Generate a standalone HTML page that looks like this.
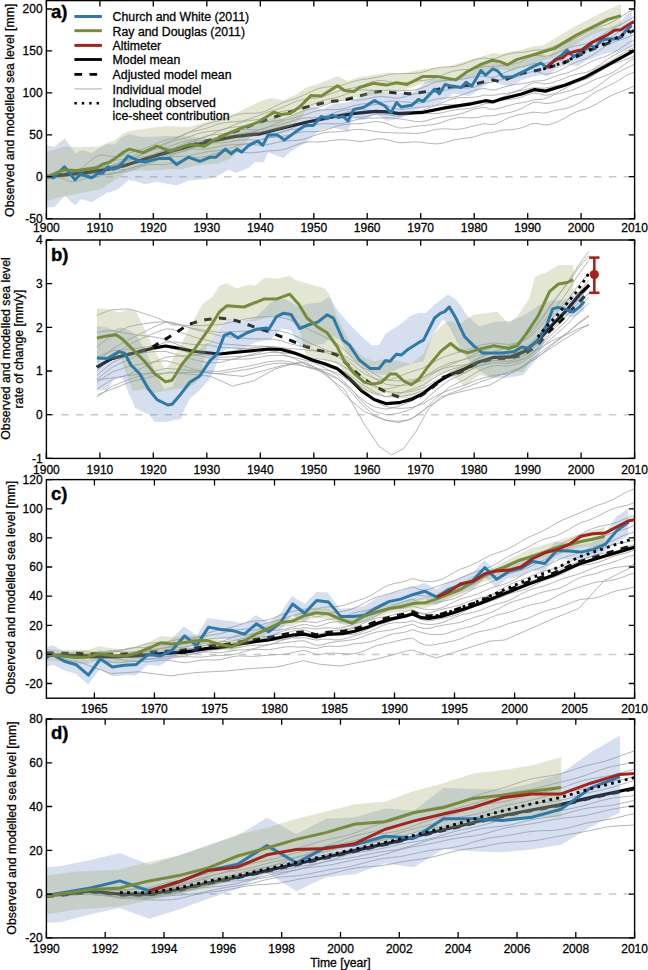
<!DOCTYPE html><html><head><meta charset="utf-8"><style>html,body{margin:0;padding:0;background:#fff}svg{display:block}</style></head><body>
<svg width="648" height="970" viewBox="0 0 648 970" font-family='"Liberation Sans", sans-serif'>
<style>text{fill:#000;stroke:#000;stroke-width:0.28px;paint-order:stroke}text.b{stroke-width:0.35px}</style>
<rect width="648" height="970" fill="#fff"/>
<defs>
<clipPath id="cpa"><rect x="46.4" y="0.6" width="588.2" height="218.3"/></clipPath>
<clipPath id="cpb"><rect x="46.4" y="240.0" width="588.2" height="218.4"/></clipPath>
<clipPath id="cpc"><rect x="46.4" y="479.6" width="588.2" height="218.6"/></clipPath>
<clipPath id="cpd"><rect x="46.4" y="719.0" width="588.2" height="218.9"/></clipPath>
</defs>
<g clip-path="url(#cpa)">
<line x1="46.4" y1="176.7" x2="634.6" y2="176.7" stroke="#c9c9c9" stroke-width="1.5" stroke-dasharray="7.4 7.4"/>
<path d="M46.4 177.1 L51.7 175.5 L57.1 174.2 L62.4 173.4 L67.8 172.7 L73.1 171.7 L78.5 169.7 L83.8 166.5 L89.2 161.9 L94.5 157.5 L99.9 155.1 L105.2 155.2 L110.6 156.3 L115.9 156.6 L121.3 155.7 L126.6 154.1 L132.0 152.2 L137.3 150.7 L142.6 149.1 L148.0 147.3 L153.3 145.1 L158.7 142.7 L164.0 140.6 L169.4 139.0 L174.7 137.9 L180.1 136.5 L185.4 134.4 L190.8 131.6 L196.1 128.7 L201.5 126.0 L206.8 123.9 L212.2 122.3 L217.5 121.1 L222.9 119.7 L228.2 117.8 L233.5 115.7 L238.9 114.2 L244.2 113.4 L249.6 113.3 L254.9 113.3 L260.3 112.9 L265.6 111.0 L271.0 108.4 L276.3 105.6 L281.7 103.2 L287.0 101.2 L292.4 99.5 L297.7 97.7 L303.1 95.4 L308.4 92.8 L313.8 90.3 L319.1 88.4 L324.4 87.3 L329.8 86.8 L335.1 86.4 L340.5 85.5 L345.8 84.0 L351.2 82.1 L356.5 80.6 L361.9 79.6 L367.2 78.9 L372.6 78.1 L377.9 77.1 L383.3 76.0 L388.6 74.6 L394.0 73.9 L399.3 73.8 L404.6 73.5 L410.0 73.5 L415.3 73.3 L420.7 72.7 L426.0 71.2 L431.4 69.4 L436.7 67.9 L442.1 67.2 L447.4 67.0 L452.8 66.7 L458.1 65.6 L463.5 63.9 L468.8 61.9 L474.2 60.0 L479.5 58.7 L484.9 57.9 L490.2 58.9 L495.5 58.4 L500.9 56.4 L506.2 54.6 L511.6 53.3 L516.9 52.6 L522.3 52.3 L527.6 51.6 L533.0 50.3 L538.3 49.9 L543.7 49.9 L549.0 48.2 L554.4 46.2 L559.7 44.7 L565.1 43.3 L570.4 41.1 L575.8 38.4 L581.1 35.5 L586.4 32.7 L591.8 29.8 L597.1 27.6 L602.5 25.9 L607.8 23.9 L613.2 21.4 L618.5 18.2 L623.9 14.8 L629.2 11.6 L634.6 9.2" fill="none" stroke="#a2a2a2" stroke-width="0.80" stroke-linejoin="round"/>
<path d="M46.4 177.1 L51.7 176.1 L57.1 175.0 L62.4 173.9 L67.8 172.8 L73.1 171.9 L78.5 171.3 L83.8 170.5 L89.2 169.0 L94.5 166.8 L99.9 164.4 L105.2 162.5 L110.6 161.1 L115.9 160.2 L121.3 159.6 L126.6 158.5 L132.0 156.4 L137.3 153.9 L142.6 151.5 L148.0 149.7 L153.3 148.3 L158.7 146.9 L164.0 145.0 L169.4 142.4 L174.7 139.3 L180.1 136.2 L185.4 133.6 L190.8 131.8 L196.1 130.7 L201.5 129.6 L206.8 128.1 L212.2 126.2 L217.5 124.3 L222.9 123.0 L228.2 122.2 L233.5 121.8 L238.9 121.4 L244.2 120.6 L249.6 118.9 L254.9 116.9 L260.3 114.9 L265.6 112.8 L271.0 111.2 L276.3 109.6 L281.7 107.8 L287.0 105.4 L292.4 102.9 L297.7 100.8 L303.1 99.3 L308.4 98.6 L313.8 98.3 L319.1 97.6 L324.4 96.2 L329.8 94.2 L335.1 92.2 L340.5 90.6 L345.8 89.3 L351.2 88.3 L356.5 87.2 L361.9 85.7 L367.2 83.7 L372.6 81.7 L377.9 80.6 L383.3 80.7 L388.6 81.6 L394.0 82.9 L399.3 83.7 L404.6 83.0 L410.0 81.9 L415.3 81.1 L420.7 80.7 L426.0 80.2 L431.4 79.2 L436.7 77.5 L442.1 75.3 L447.4 73.1 L452.8 71.3 L458.1 70.1 L463.5 69.6 L468.8 69.5 L474.2 68.8 L479.5 67.7 L484.9 66.2 L490.2 66.7 L495.5 66.4 L500.9 65.6 L506.2 65.3 L511.6 64.7 L516.9 63.2 L522.3 61.0 L527.6 58.1 L533.0 55.6 L538.3 55.4 L543.7 56.4 L549.0 55.8 L554.4 54.0 L559.7 51.8 L565.1 49.5 L570.4 47.3 L575.8 45.8 L581.1 44.8 L586.4 43.8 L591.8 41.5 L597.1 38.4 L602.5 34.9 L607.8 31.3 L613.2 28.2 L618.5 25.6 L623.9 22.9 L629.2 19.8 L634.6 16.5" fill="none" stroke="#a2a2a2" stroke-width="0.80" stroke-linejoin="round"/>
<path d="M46.4 177.1 L51.7 176.0 L57.1 174.9 L62.4 174.1 L67.8 173.3 L73.1 172.0 L78.5 170.3 L83.8 168.5 L89.2 167.1 L94.5 166.7 L99.9 166.6 L105.2 166.5 L110.6 165.5 L115.9 163.8 L121.3 161.9 L126.6 160.1 L132.0 158.3 L137.3 156.7 L142.6 154.9 L148.0 152.5 L153.3 149.6 L158.7 146.4 L164.0 143.7 L169.4 141.7 L174.7 140.4 L180.1 139.3 L185.4 138.0 L190.8 136.2 L196.1 134.4 L201.5 132.8 L206.8 131.7 L212.2 131.1 L217.5 130.5 L222.9 129.5 L228.2 127.6 L233.5 125.1 L238.9 122.9 L244.2 121.4 L249.6 120.4 L254.9 119.9 L260.3 119.2 L265.6 117.3 L271.0 115.1 L276.3 113.0 L281.7 111.5 L287.0 110.6 L292.4 110.1 L297.7 109.4 L303.1 108.1 L308.4 106.1 L313.8 103.8 L319.1 101.7 L324.4 100.1 L329.8 98.9 L335.1 97.8 L340.5 96.3 L345.8 94.3 L351.2 92.1 L356.5 90.6 L361.9 89.9 L367.2 90.0 L372.6 90.2 L377.9 90.5 L383.3 90.5 L388.6 90.2 L394.0 90.4 L399.3 90.7 L404.6 90.5 L410.0 90.4 L415.3 89.8 L420.7 88.5 L426.0 86.3 L431.4 83.8 L436.7 81.7 L442.1 80.7 L447.4 80.4 L452.8 80.3 L458.1 79.9 L463.5 79.0 L468.8 78.0 L474.2 76.9 L479.5 76.4 L484.9 76.2 L490.2 77.5 L495.5 77.0 L500.9 74.5 L506.2 72.0 L511.6 69.7 L516.9 68.0 L522.3 66.8 L527.6 65.4 L533.0 63.7 L538.3 63.4 L543.7 63.6 L549.0 62.6 L554.4 61.4 L559.7 60.8 L565.1 60.3 L570.4 59.0 L575.8 56.9 L581.1 54.1 L586.4 51.2 L591.8 47.7 L597.1 44.7 L602.5 42.0 L607.8 39.2 L613.2 35.8 L618.5 32.0 L623.9 28.3 L629.2 25.1 L634.6 23.0" fill="none" stroke="#a2a2a2" stroke-width="0.80" stroke-linejoin="round"/>
<path d="M46.4 177.1 L51.7 176.1 L57.1 174.8 L62.4 173.6 L67.8 172.4 L73.1 171.7 L78.5 171.7 L83.8 171.9 L89.2 171.6 L94.5 170.5 L99.9 169.0 L105.2 167.5 L110.6 166.2 L115.9 165.1 L121.3 164.0 L126.6 162.3 L132.0 159.5 L137.3 156.3 L142.6 153.4 L148.0 151.3 L153.3 149.9 L158.7 149.0 L164.0 148.0 L169.4 146.5 L174.7 144.6 L180.1 142.6 L185.4 141.0 L190.8 140.0 L196.1 139.3 L201.5 138.3 L206.8 136.6 L212.2 134.2 L217.5 131.7 L222.9 129.5 L228.2 128.0 L233.5 127.1 L238.9 126.6 L244.2 126.0 L249.6 125.0 L254.9 123.8 L260.3 122.9 L265.6 121.9 L271.0 121.4 L276.3 120.8 L281.7 119.8 L287.0 117.9 L292.4 115.4 L297.7 112.9 L303.1 110.9 L308.4 109.4 L313.8 108.3 L319.1 107.0 L324.4 105.3 L329.8 103.2 L335.1 101.4 L340.5 100.3 L345.8 100.0 L351.2 100.0 L356.5 100.2 L361.9 99.8 L367.2 98.8 L372.6 97.5 L377.9 96.7 L383.3 96.7 L388.6 97.2 L394.0 98.0 L399.3 98.1 L404.6 96.7 L410.0 95.0 L415.3 93.7 L420.7 93.3 L426.0 93.0 L431.4 92.7 L436.7 92.0 L442.1 90.9 L447.4 89.7 L452.8 88.7 L458.1 88.2 L463.5 88.1 L468.8 88.0 L474.2 87.1 L479.5 85.4 L484.9 83.1 L490.2 82.6 L495.5 81.3 L500.9 79.7 L506.2 78.9 L511.6 78.0 L516.9 76.8 L522.3 75.1 L527.6 73.0 L533.0 71.3 L538.3 72.0 L543.7 73.9 L549.0 74.0 L554.4 72.6 L559.7 70.4 L565.1 67.8 L570.4 64.8 L575.8 62.4 L581.1 60.4 L586.4 58.5 L591.8 55.5 L597.1 52.0 L602.5 48.3 L607.8 45.0 L613.2 42.4 L618.5 40.4 L623.9 38.7 L629.2 36.7 L634.6 34.2" fill="none" stroke="#a2a2a2" stroke-width="0.80" stroke-linejoin="round"/>
<path d="M46.4 177.1 L51.7 176.0 L57.1 175.2 L62.4 174.9 L67.8 174.8 L73.1 174.4 L78.5 173.6 L83.8 172.4 L89.2 171.1 L94.5 170.2 L99.9 169.5 L105.2 168.7 L110.6 167.0 L115.9 164.7 L121.3 162.5 L126.6 160.5 L132.0 159.0 L137.3 158.1 L142.6 157.2 L148.0 156.0 L153.3 154.3 L158.7 152.2 L164.0 150.3 L169.4 148.9 L174.7 147.8 L180.1 146.6 L185.4 144.9 L190.8 142.5 L196.1 140.0 L201.5 137.6 L206.8 135.9 L212.2 134.9 L217.5 134.4 L222.9 133.7 L228.2 132.6 L233.5 131.2 L238.9 130.1 L244.2 129.6 L249.6 129.7 L254.9 130.0 L260.3 129.9 L265.6 128.3 L271.0 125.9 L276.3 123.3 L281.7 121.1 L287.0 119.4 L292.4 118.1 L297.7 116.9 L303.1 115.4 L308.4 113.5 L313.8 111.7 L319.1 110.3 L324.4 109.7 L329.8 109.6 L335.1 109.7 L340.5 109.3 L345.8 108.1 L351.2 106.4 L356.5 105.0 L361.9 104.0 L367.2 103.5 L372.6 103.0 L377.9 102.6 L383.3 102.0 L388.6 101.2 L394.0 101.1 L399.3 101.6 L404.6 101.8 L410.0 102.5 L415.3 103.0 L420.7 102.9 L426.0 101.9 L431.4 100.3 L436.7 99.0 L442.1 98.2 L447.4 97.8 L452.8 97.3 L458.1 96.2 L463.5 94.4 L468.8 92.4 L474.2 90.4 L479.5 89.1 L484.9 88.5 L490.2 89.9 L495.5 89.8 L500.9 88.0 L506.2 86.4 L511.6 85.0 L516.9 84.1 L522.3 83.7 L527.6 82.8 L533.0 81.3 L538.3 80.9 L543.7 80.6 L549.0 78.7 L554.4 76.5 L559.7 74.9 L565.1 73.6 L570.4 71.7 L575.8 69.3 L581.1 66.7 L586.4 64.1 L591.8 61.3 L597.1 59.1 L602.5 57.4 L607.8 55.5 L613.2 52.9 L618.5 49.6 L623.9 46.0 L629.2 42.4 L634.6 39.7" fill="none" stroke="#a2a2a2" stroke-width="0.80" stroke-linejoin="round"/>
<path d="M46.4 177.1 L51.7 176.6 L57.1 175.9 L62.4 175.1 L67.8 174.2 L73.1 173.4 L78.5 172.9 L83.8 172.5 L89.2 171.4 L94.5 169.9 L99.9 168.1 L105.2 166.7 L110.6 165.8 L115.9 165.5 L121.3 165.4 L126.6 164.9 L132.0 163.2 L137.3 161.1 L142.6 158.8 L148.0 156.9 L153.3 155.6 L158.7 154.3 L164.0 152.8 L169.4 150.6 L174.7 147.9 L180.1 145.2 L185.4 143.0 L190.8 141.7 L196.1 141.2 L201.5 140.8 L206.8 140.0 L212.2 138.7 L217.5 137.3 L222.9 136.2 L228.2 135.5 L233.5 135.2 L238.9 135.1 L244.2 134.5 L249.6 133.1 L254.9 131.3 L260.3 129.5 L265.6 127.7 L271.0 126.4 L276.3 125.5 L281.7 124.3 L287.0 122.7 L292.4 120.9 L297.7 119.2 L303.1 118.2 L308.4 117.8 L313.8 117.8 L319.1 117.4 L324.4 116.3 L329.8 114.5 L335.1 112.6 L340.5 111.0 L345.8 109.9 L351.2 109.2 L356.5 108.6 L361.9 107.6 L367.2 106.3 L372.6 104.9 L377.9 104.3 L383.3 104.9 L388.6 106.3 L394.0 108.2 L399.3 109.6 L404.6 109.2 L410.0 108.4 L415.3 107.6 L420.7 107.2 L426.0 106.8 L431.4 106.0 L436.7 104.7 L442.1 102.8 L447.4 100.6 L452.8 98.8 L458.1 97.7 L463.5 97.4 L468.8 97.5 L474.2 97.2 L479.5 96.3 L484.9 95.0 L490.2 95.4 L495.5 95.0 L500.9 93.9 L506.2 93.4 L511.6 92.5 L516.9 90.9 L522.3 88.6 L527.6 85.6 L533.0 82.9 L538.3 82.7 L543.7 83.8 L549.0 83.4 L554.4 82.0 L559.7 80.1 L565.1 78.1 L570.4 75.9 L575.8 74.4 L581.1 73.3 L586.4 72.3 L591.8 69.9 L597.1 66.7 L602.5 62.9 L607.8 59.0 L613.2 55.7 L618.5 52.8 L623.9 50.1 L629.2 47.2 L634.6 44.1" fill="none" stroke="#a2a2a2" stroke-width="0.80" stroke-linejoin="round"/>
<path d="M46.4 177.1 L51.7 176.3 L57.1 175.4 L62.4 174.8 L67.8 174.3 L73.1 173.5 L78.5 172.3 L83.8 171.0 L89.2 170.1 L94.5 170.0 L99.9 170.4 L105.2 170.7 L110.6 170.1 L115.9 168.6 L121.3 166.8 L126.6 164.9 L132.0 163.1 L137.3 161.6 L142.6 160.0 L148.0 158.1 L153.3 155.6 L158.7 152.9 L164.0 150.6 L169.4 149.0 L174.7 148.3 L180.1 147.8 L185.4 147.0 L190.8 145.8 L196.1 144.3 L201.5 142.9 L206.8 141.8 L212.2 141.2 L217.5 140.8 L222.9 139.9 L228.2 138.2 L233.5 136.0 L238.9 134.1 L244.2 132.8 L249.6 132.2 L254.9 132.2 L260.3 132.2 L265.6 131.0 L271.0 129.4 L276.3 127.8 L281.7 126.5 L287.0 125.8 L292.4 125.5 L297.7 125.0 L303.1 123.9 L308.4 122.0 L313.8 119.9 L319.1 117.9 L324.4 116.4 L329.8 115.4 L335.1 114.8 L340.5 113.8 L345.8 112.5 L351.2 110.9 L356.5 109.8 L361.9 109.6 L367.2 110.0 L372.6 110.7 L377.9 111.3 L383.3 111.7 L388.6 111.6 L394.0 111.7 L399.3 112.1 L404.6 111.8 L410.0 111.8 L415.3 111.6 L420.7 110.8 L426.0 109.0 L431.4 106.9 L436.7 105.4 L442.1 104.6 L447.4 104.5 L452.8 104.8 L458.1 104.6 L463.5 103.8 L468.8 102.7 L474.2 101.5 L479.5 100.6 L484.9 100.1 L490.2 101.2 L495.5 100.6 L500.9 98.0 L506.2 95.5 L511.6 93.1 L516.9 91.3 L522.3 90.2 L527.6 89.1 L533.0 87.8 L538.3 87.9 L543.7 88.3 L549.0 87.3 L554.4 86.0 L559.7 85.2 L565.1 84.7 L570.4 83.2 L575.8 81.0 L581.1 78.0 L586.4 74.8 L591.8 71.1 L597.1 68.0 L602.5 65.3 L607.8 62.6 L613.2 59.5 L618.5 56.1 L623.9 52.6 L629.2 49.5 L634.6 47.4" fill="none" stroke="#a2a2a2" stroke-width="0.80" stroke-linejoin="round"/>
<path d="M46.4 177.1 L51.7 176.3 L57.1 175.4 L62.4 174.6 L67.8 173.8 L73.1 173.5 L78.5 173.8 L83.8 174.4 L89.2 174.4 L94.5 173.5 L99.9 172.0 L105.2 170.5 L110.6 169.2 L115.9 168.1 L121.3 167.2 L126.6 165.9 L132.0 163.6 L137.3 160.9 L142.6 158.4 L148.0 156.7 L153.3 155.8 L158.7 155.4 L164.0 154.9 L169.4 153.8 L174.7 152.2 L180.1 150.4 L185.4 148.7 L190.8 147.6 L196.1 146.9 L201.5 146.1 L206.8 144.7 L212.2 142.6 L217.5 140.3 L222.9 138.4 L228.2 137.3 L233.5 136.8 L238.9 136.9 L244.2 137.0 L249.6 136.5 L254.9 135.7 L260.3 135.0 L265.6 134.1 L271.0 133.7 L276.3 133.2 L281.7 132.3 L287.0 130.6 L292.4 128.2 L297.7 125.8 L303.1 123.8 L308.4 122.6 L313.8 121.9 L319.1 121.2 L324.4 120.1 L329.8 118.6 L335.1 117.3 L340.5 116.6 L345.8 116.5 L351.2 116.8 L356.5 117.3 L361.9 117.1 L367.2 116.3 L372.6 114.9 L377.9 114.1 L383.3 114.1 L388.6 114.7 L394.0 115.8 L399.3 116.4 L404.6 115.4 L410.0 114.3 L415.3 113.4 L420.7 113.4 L426.0 113.6 L431.4 113.7 L436.7 113.5 L442.1 112.7 L447.4 111.4 L452.8 110.2 L458.1 109.3 L463.5 108.9 L468.8 108.6 L474.2 107.5 L479.5 105.8 L484.9 103.6 L490.2 103.1 L495.5 101.9 L500.9 100.3 L506.2 99.7 L511.6 99.2 L516.9 98.3 L522.3 96.8 L527.6 94.8 L533.0 93.0 L538.3 93.5 L543.7 95.1 L549.0 95.0 L554.4 93.5 L559.7 91.2 L565.1 88.4 L570.4 85.2 L575.8 82.7 L581.1 80.7 L586.4 79.0 L591.8 76.3 L597.1 73.1 L602.5 69.7 L607.8 66.5 L613.2 63.9 L618.5 62.0 L623.9 60.2 L629.2 58.2 L634.6 55.6" fill="none" stroke="#a2a2a2" stroke-width="0.80" stroke-linejoin="round"/>
<path d="M46.4 177.1 L51.7 176.4 L57.1 175.8 L62.4 175.8 L67.8 176.0 L73.1 175.9 L78.5 175.2 L83.8 174.0 L89.2 172.7 L94.5 171.8 L99.9 171.3 L105.2 170.8 L110.6 169.7 L115.9 168.0 L121.3 166.2 L126.6 164.6 L132.0 163.5 L137.3 162.9 L142.6 162.4 L148.0 161.6 L153.3 160.1 L158.7 158.2 L164.0 156.2 L169.4 154.6 L174.7 153.5 L180.1 152.4 L185.4 151.0 L190.8 148.9 L196.1 146.8 L201.5 144.7 L206.8 143.4 L212.2 142.8 L217.5 142.8 L222.9 142.7 L228.2 142.1 L233.5 141.0 L238.9 140.1 L244.2 139.7 L249.6 139.8 L254.9 140.0 L260.3 140.0 L265.6 138.5 L271.0 136.4 L276.3 133.9 L281.7 131.8 L287.0 130.3 L292.4 129.4 L297.7 128.8 L303.1 127.9 L308.4 126.6 L313.8 125.2 L319.1 124.2 L324.4 123.7 L329.8 123.8 L335.1 124.0 L340.5 123.8 L345.8 122.7 L351.2 121.1 L356.5 119.6 L361.9 118.6 L367.2 118.2 L372.6 118.0 L377.9 118.0 L383.3 118.0 L388.6 117.7 L394.0 118.1 L399.3 118.9 L404.6 119.5 L410.0 120.5 L415.3 121.4 L420.7 121.7 L426.0 120.8 L431.4 119.3 L436.7 117.9 L442.1 116.9 L447.4 116.2 L452.8 115.6 L458.1 114.5 L463.5 112.8 L468.8 111.0 L474.2 109.1 L479.5 107.9 L484.9 107.5 L490.2 109.1 L495.5 109.3 L500.9 107.8 L506.2 106.2 L511.6 104.7 L516.9 103.5 L522.3 102.7 L527.6 101.6 L533.0 100.0 L538.3 99.5 L543.7 99.1 L549.0 97.1 L554.4 94.8 L559.7 93.2 L565.1 92.1 L570.4 90.6 L575.8 88.6 L581.1 86.2 L586.4 83.8 L591.8 80.9 L597.1 78.7 L602.5 76.8 L607.8 74.8 L613.2 72.1 L618.5 68.7 L623.9 64.8 L629.2 61.0 L634.6 58.0" fill="none" stroke="#a2a2a2" stroke-width="0.80" stroke-linejoin="round"/>
<path d="M46.4 177.1 L51.7 176.8 L57.1 176.4 L62.4 175.8 L67.8 175.0 L73.1 174.3 L78.5 173.9 L83.8 173.8 L89.2 173.2 L94.5 172.3 L99.9 171.1 L105.2 170.1 L110.6 169.6 L115.9 169.5 L121.3 169.8 L126.6 169.5 L132.0 168.1 L137.3 166.1 L142.6 163.7 L148.0 161.8 L153.3 160.4 L158.7 159.3 L164.0 158.0 L169.4 156.2 L174.7 154.0 L180.1 151.8 L185.4 150.0 L190.8 149.1 L196.1 149.1 L201.5 149.2 L206.8 148.9 L212.2 147.9 L217.5 146.7 L222.9 145.6 L228.2 144.9 L233.5 144.6 L238.9 144.5 L244.2 144.0 L249.6 142.9 L254.9 141.3 L260.3 139.8 L265.6 138.2 L271.0 137.4 L276.3 137.0 L281.7 136.4 L287.0 135.5 L292.4 134.1 L297.7 132.8 L303.1 131.8 L308.4 131.6 L313.8 131.7 L319.1 131.4 L324.4 130.4 L329.8 128.7 L335.1 126.9 L340.5 125.3 L345.8 124.4 L351.2 123.9 L356.5 123.8 L361.9 123.5 L367.2 122.7 L372.6 121.8 L377.9 121.6 L383.3 122.6 L388.6 124.2 L394.0 126.4 L399.3 128.0 L404.6 127.9 L410.0 127.1 L415.3 126.3 L420.7 125.8 L426.0 125.4 L431.4 124.8 L436.7 123.8 L442.1 122.3 L447.4 120.3 L452.8 118.7 L458.1 117.7 L463.5 117.6 L468.8 117.9 L474.2 117.8 L479.5 117.1 L484.9 115.8 L490.2 116.0 L495.5 115.3 L500.9 113.9 L506.2 113.1 L511.6 112.1 L516.9 110.4 L522.3 108.1 L527.6 105.0 L533.0 102.4 L538.3 102.2 L543.7 103.4 L549.0 103.4 L554.4 102.3 L559.7 100.8 L565.1 98.9 L570.4 96.6 L575.8 94.9 L581.1 93.7 L586.4 92.4 L591.8 89.9 L597.1 86.6 L602.5 82.6 L607.8 78.5 L613.2 74.9 L618.5 72.0 L623.9 69.4 L629.2 66.8 L634.6 64.0" fill="none" stroke="#a2a2a2" stroke-width="0.80" stroke-linejoin="round"/>
<path d="M46.4 177.1 L51.7 176.5 L57.1 175.8 L62.4 175.5 L67.8 175.4 L73.1 175.1 L78.5 174.6 L83.8 173.8 L89.2 173.3 L94.5 173.5 L99.9 174.2 L105.2 174.7 L110.6 174.4 L115.9 173.1 L121.3 171.4 L126.6 169.5 L132.0 167.7 L137.3 166.4 L142.6 165.1 L148.0 163.7 L153.3 161.8 L158.7 159.7 L164.0 157.8 L169.4 156.8 L174.7 156.4 L180.1 156.4 L185.4 156.2 L190.8 155.3 L196.1 154.1 L201.5 152.8 L206.8 151.7 L212.2 151.0 L217.5 150.7 L222.9 150.0 L228.2 148.7 L233.5 146.9 L238.9 145.3 L244.2 144.4 L249.6 144.3 L254.9 144.8 L260.3 145.4 L265.6 144.9 L271.0 143.9 L276.3 142.6 L281.7 141.5 L287.0 140.9 L292.4 140.6 L297.7 140.3 L303.1 139.3 L308.4 137.7 L313.8 135.7 L319.1 133.9 L324.4 132.6 L329.8 132.0 L335.1 131.9 L340.5 131.6 L345.8 130.9 L351.2 130.0 L356.5 129.4 L361.9 129.4 L367.2 130.1 L372.6 131.0 L377.9 131.9 L383.3 132.5 L388.6 132.6 L394.0 132.8 L399.3 133.1 L404.6 133.0 L410.0 133.2 L415.3 133.4 L420.7 133.1 L426.0 132.0 L431.4 130.4 L436.7 129.3 L442.1 128.9 L447.4 128.9 L452.8 129.3 L458.1 129.3 L463.5 128.5 L468.8 127.3 L474.2 125.7 L479.5 124.5 L484.9 123.6 L490.2 124.6 L495.5 123.9 L500.9 121.5 L506.2 119.0 L511.6 116.7 L516.9 115.0 L522.3 114.1 L527.6 113.2 L533.0 112.2 L538.3 112.5 L543.7 113.1 L549.0 112.1 L554.4 110.5 L559.7 109.5 L565.1 108.7 L570.4 107.0 L575.8 104.7 L581.1 101.7 L586.4 98.3 L591.8 94.4 L597.1 91.2 L602.5 88.7 L607.8 86.2 L613.2 83.6 L618.5 80.4 L623.9 77.1 L629.2 74.1 L634.6 72.0" fill="none" stroke="#a2a2a2" stroke-width="0.80" stroke-linejoin="round"/>
<path d="M46.4 177.2 L51.7 176.9 L57.1 177.0 L62.4 178.5 L67.8 180.9 L73.1 181.9 L78.5 180.6 L83.8 179.0 L89.2 178.2 L94.5 177.3 L99.9 176.0 L105.2 174.6 L110.6 173.4 L115.9 172.6 L121.3 172.2 L126.6 171.4 L132.0 169.9 L137.3 167.9 L142.6 166.0 L148.0 164.8 L153.3 164.4 L158.7 164.5 L164.0 164.4 L169.4 163.8 L174.7 162.6 L180.1 160.9 L185.4 159.3 L190.8 158.2 L196.1 157.7 L201.5 157.2 L206.8 156.2 L212.2 154.7 L217.5 153.0 L222.9 151.7 L228.2 151.0 L233.5 151.2 L238.9 151.9 L244.2 152.6 L249.6 152.8 L254.9 152.4 L260.3 152.0 L265.6 151.2 L271.0 150.8 L276.3 150.5 L281.7 149.8 L287.0 148.5 L292.4 146.5 L297.7 144.4 L303.1 142.8 L308.4 142.0 L313.8 141.9 L319.1 141.9 L324.4 141.6 L329.8 140.8 L335.1 140.1 L340.5 139.7 L345.8 139.9 L351.2 140.4 L356.5 141.1 L361.9 141.3 L367.2 140.7 L372.6 139.6 L377.9 138.8 L383.3 139.0 L388.6 140.0 L394.0 141.6 L399.3 142.8 L404.6 142.6 L410.0 142.2 L415.3 141.9 L420.7 142.3 L426.0 143.0 L431.4 143.6 L436.7 143.9 L442.1 143.3 L447.4 141.8 L452.8 140.3 L458.1 139.1 L463.5 138.3 L468.8 137.8 L474.2 136.8 L479.5 135.2 L484.9 133.2 L490.2 132.8 L495.5 131.7 L500.9 130.3 L506.2 129.9 L511.6 129.6 L516.9 129.0 L522.3 127.6 L527.6 125.5 L533.0 123.5 L538.3 123.7 L543.7 125.0 L549.0 124.6 L554.4 123.0 L559.7 120.7 L565.1 117.9 L570.4 114.7 L575.8 112.1 L581.1 110.2 L586.4 108.8 L591.8 106.4 L597.1 103.6 L602.5 100.4 L607.8 97.3 L613.2 94.6 L618.5 92.4 L623.9 90.5 L629.2 88.3 L634.6 85.7" fill="none" stroke="#a2a2a2" stroke-width="0.80" stroke-linejoin="round"/>
<path d="M46.0 177.2 L58.3 175.4 L83.0 173.0 L107.7 169.3 L125.0 165.5 L143.1 159.5 L166.3 152.6 L189.4 146.1 L212.6 141.0 L235.7 136.4 L260.0 133.8 L283.1 128.0 L306.3 122.2 L329.4 117.5 L352.6 113.6 L375.7 111.3 L387.3 111.8 L398.9 113.6 L423.1 112.3 L446.3 107.6 L469.4 104.2 L485.6 100.7 L492.6 101.9 L500.0 99.4 L521.6 94.0 L534.6 89.6 L545.4 91.1 L564.8 85.3 L586.4 76.7 L608.0 64.8 L634.0 50.6" fill="none" stroke="#000" stroke-width="3.20" stroke-linejoin="round" stroke-linecap="butt"/>
<path d="M46.0 177.2 L58.3 175.4 L83.0 173.0 L107.7 169.3 L125.0 165.5 L143.1 159.5 L166.3 152.6 L185.0 146.5 L212.0 139.5 L240.0 130.0 L252.0 125.0 L260.0 122.2 L283.1 114.1 L306.3 107.1 L329.4 101.3 L341.0 100.6 L357.2 96.7 L371.1 92.8 L380.4 91.4 L394.3 92.8 L410.0 93.7 L423.1 92.1 L446.3 87.5 L469.4 85.2 L492.6 79.9 L500.0 81.6 L521.6 73.4 L543.2 69.1 L564.8 62.6 L586.4 51.8 L608.0 43.2 L634.0 30.5" fill="none" stroke="#111" stroke-width="3.00" stroke-linejoin="round" stroke-linecap="butt" stroke-dasharray="7.4 7.4"/>
<path d="M46.0 145.0 L54.0 147.0 L64.8 138.2 L75.2 153.5 L82.0 150.0 L92.0 153.0 L99.0 148.0 L107.0 144.0 L115.0 144.4 L121.0 138.0 L129.0 134.0 L136.0 136.0 L143.0 137.0 L166.0 136.0 L189.0 136.4 L212.0 138.7 L236.0 129.5 L250.0 124.7 L263.9 120.6 L275.0 116.4 L286.1 120.6 L295.8 114.3 L305.6 110.1 L313.9 106.7 L322.2 109.4 L333.3 103.9 L348.0 102.5 L357.2 97.9 L371.1 89.8 L385.0 93.2 L398.9 93.2 L413.9 91.4 L425.5 82.2 L434.7 78.7 L446.3 78.7 L460.2 76.4 L469.4 74.1 L481.0 62.5 L492.6 60.2 L500.0 63.7 L510.8 65.9 L521.6 60.5 L532.4 56.2 L541.0 52.9 L547.5 57.2 L558.3 47.5 L567.0 42.1 L577.8 38.9 L586.4 34.6 L597.2 28.1 L608.0 28.1 L618.8 23.8 L625.3 16.2 L631.7 9.7 L631.7 46.4 L618.8 51.8 L608.0 52.9 L597.2 56.2 L586.4 60.5 L577.8 65.9 L567.0 64.8 L556.2 69.1 L546.4 76.7 L543.2 74.5 L532.4 76.7 L521.6 79.9 L510.8 86.4 L500.0 84.2 L492.6 79.9 L483.3 86.8 L469.4 96.1 L453.2 93.8 L439.4 103.0 L427.8 106.5 L413.9 111.1 L398.9 118.7 L387.3 121.0 L375.7 114.1 L364.2 119.9 L352.6 118.7 L348.0 131.4 L333.3 127.5 L319.4 130.3 L305.6 142.8 L291.7 151.1 L283.3 158.0 L268.0 152.5 L263.9 162.2 L255.0 162.0 L248.4 168.1 L236.0 173.1 L228.6 169.4 L218.8 175.6 L206.4 179.3 L189.1 180.5 L176.8 185.4 L157.0 181.7 L144.7 184.2 L134.7 181.0 L128.5 180.0 L122.3 185.8 L116.2 190.1 L110.0 192.6 L107.1 192.4 L98.8 197.9 L91.8 202.1 L80.7 199.3 L75.2 205.6 L64.8 195.8 L54.3 207.0 L46.0 207.6 Z" fill="rgb(118,148,202)" fill-opacity="0.30" stroke="none"/>
<path d="M46.0 152.0 L55.0 149.5 L64.5 146.5 L75.0 147.0 L88.0 147.0 L99.0 146.5 L107.0 143.0 L115.0 140.0 L124.0 133.0 L129.0 131.0 L143.0 129.0 L166.3 126.0 L189.0 127.0 L212.6 120.2 L235.7 113.2 L260.0 101.3 L271.6 97.9 L283.1 100.2 L294.7 95.6 L306.3 87.5 L317.9 84.0 L327.1 80.5 L337.5 75.9 L348.0 81.2 L359.5 77.0 L375.7 74.7 L389.6 72.4 L400.0 74.0 L423.1 69.0 L446.3 67.1 L469.4 60.2 L492.6 53.2 L500.0 54.0 L510.8 51.8 L521.6 49.7 L532.4 46.4 L543.2 45.4 L554.0 38.9 L564.8 32.4 L575.6 25.9 L586.4 20.5 L597.2 15.1 L608.0 9.7 L621.0 3.9 L621.0 25.9 L608.0 29.2 L597.2 32.4 L586.4 37.8 L575.6 44.3 L564.8 49.7 L554.0 57.2 L543.2 60.5 L532.4 64.8 L521.6 67.0 L510.8 71.3 L500.0 69.1 L492.6 70.6 L469.4 77.5 L446.3 82.2 L423.1 83.3 L400.0 91.4 L375.7 94.4 L352.6 97.9 L340.0 101.1 L326.4 103.9 L312.5 106.7 L305.6 110.8 L301.4 117.8 L291.7 126.1 L277.8 130.3 L263.9 133.0 L250.0 137.0 L240.0 150.0 L231.1 158.3 L218.8 163.2 L206.4 164.4 L194.1 165.7 L181.7 169.4 L169.4 168.9 L157.0 170.6 L137.8 170.4 L128.5 171.6 L122.3 174.7 L116.2 179.6 L110.0 183.3 L101.6 188.9 L87.7 191.7 L73.8 194.4 L59.9 197.2 L46.0 201.4 Z" fill="rgb(158,172,105)" fill-opacity="0.30" stroke="none"/>
<path d="M46.0 175.4 L53.4 177.9 L64.5 166.8 L75.0 179.8 L80.6 174.2 L91.7 177.7 L97.9 173.6 L102.8 173.0 L107.7 167.0 L113.3 169.3 L118.8 166.8 L128.1 156.1 L138.5 160.7 L145.5 161.9 L159.4 158.4 L169.8 158.4 L176.7 164.6 L188.3 157.2 L199.9 161.4 L210.3 157.2 L216.0 157.2 L225.3 149.1 L231.1 153.7 L236.9 149.1 L241.5 152.1 L248.5 145.6 L257.7 141.0 L262.8 145.3 L268.1 134.9 L277.4 134.9 L284.3 140.0 L294.7 132.6 L305.1 125.6 L313.2 125.6 L321.3 116.4 L327.1 118.7 L331.8 115.2 L338.7 117.5 L343.3 116.4 L348.0 121.0 L353.8 109.4 L364.2 107.1 L374.6 100.6 L385.0 106.0 L390.8 112.9 L396.6 102.5 L401.2 107.1 L411.6 105.3 L418.5 99.5 L423.1 101.4 L434.7 89.1 L439.4 93.8 L445.1 84.5 L452.1 86.1 L461.3 87.5 L466.0 82.2 L471.8 86.1 L481.0 70.6 L485.6 75.2 L492.6 69.0 L497.2 70.6 L503.2 77.3 L513.0 76.7 L523.8 71.3 L534.6 65.9 L541.0 63.1 L546.4 67.4 L554.0 60.5 L561.6 55.1 L567.0 50.1 L573.4 56.6 L579.9 52.9 L586.4 48.6 L590.7 45.4 L595.0 47.5 L601.5 40.0 L608.0 38.9 L614.5 38.9 L621.0 36.7 L625.3 31.3 L631.7 25.5" fill="none" stroke="#2b7aaa" stroke-width="3.00" stroke-linejoin="round" stroke-linecap="butt"/>
<path d="M46.0 177.5 L55.9 173.0 L64.5 169.9 L76.9 170.5 L86.7 169.3 L96.6 168.0 L102.8 164.3 L109.0 162.5 L116.4 157.5 L123.8 152.0 L129.3 149.1 L143.1 152.6 L157.0 146.1 L170.9 151.4 L182.5 146.8 L190.6 144.5 L204.5 146.3 L214.9 139.9 L226.5 134.1 L240.4 128.3 L254.3 123.7 L260.0 121.0 L273.9 112.2 L280.8 114.5 L290.1 113.6 L299.4 107.1 L310.9 95.6 L321.3 96.0 L337.5 85.8 L344.5 90.5 L353.8 91.4 L359.5 87.5 L373.4 83.3 L386.2 85.1 L396.6 82.8 L406.9 84.5 L423.1 76.4 L437.0 76.4 L455.6 79.9 L467.1 71.8 L481.0 64.4 L492.6 60.2 L500.0 61.6 L507.6 64.8 L517.3 59.4 L532.4 55.1 L543.2 51.8 L554.0 48.6 L564.8 42.1 L575.6 35.6 L586.4 30.2 L597.2 24.8 L608.0 19.4 L621.0 15.6" fill="none" stroke="#778c38" stroke-width="3.00" stroke-linejoin="round" stroke-linecap="butt"/>
<path d="M546.4 67.4 L556.2 59.4 L562.6 57.9 L567.0 54.0 L573.4 51.8 L582.1 49.7 L590.7 43.2 L599.4 38.9 L608.0 34.6 L614.5 30.2 L621.0 29.8 L627.4 25.5 L634.0 21.4" fill="none" stroke="#a5231a" stroke-width="3.00" stroke-linejoin="round" stroke-linecap="butt"/>
<path d="M543.2 69.1 L564.8 62.2 L586.4 51.1 L608.0 42.1 L634.0 29.0" fill="none" stroke="#000" stroke-width="2.80" stroke-linejoin="round" stroke-linecap="butt" stroke-dasharray="2.8 4.3"/>
</g>
<g clip-path="url(#cpb)">
<line x1="46.4" y1="414.7" x2="634.6" y2="414.7" stroke="#c9c9c9" stroke-width="1.5" stroke-dasharray="7.4 7.4"/>
<path d="M96.9 315.2 L102.2 313.2 L107.6 311.2 L112.9 309.6 L118.3 309.4 L123.6 309.2 L129.0 309.0 L134.3 310.4 L139.7 312.1 L145.0 313.9 L150.4 315.6 L155.7 317.4 L161.1 319.6 L166.4 322.1 L171.8 324.8 L177.1 324.9 L182.5 325.2 L187.8 325.4 L193.1 325.7 L198.5 325.6 L203.8 325.3 L209.2 325.1 L214.5 324.9 L219.9 324.7 L225.2 323.5 L230.6 322.3 L235.9 321.1 L241.3 319.9 L246.6 318.7 L252.0 317.8 L257.3 317.3 L262.7 316.9 L268.0 316.5 L273.4 316.8 L278.7 317.1 L284.0 318.1 L289.4 319.6 L294.7 321.9 L300.1 324.6 L305.4 327.6 L310.8 330.5 L316.1 333.1 L321.5 335.5 L326.8 338.1 L332.2 340.9 L337.5 343.8 L342.9 348.6 L348.2 353.4 L353.6 359.0 L358.9 365.0 L364.2 370.1 L369.6 374.3 L374.9 378.7 L380.3 381.4 L385.6 384.2 L391.0 385.0 L396.3 385.5 L401.7 385.5 L407.0 385.0 L412.4 384.2 L417.7 382.2 L423.1 380.1 L428.4 376.7 L433.8 373.1 L439.1 370.0 L444.5 367.2 L449.8 364.9 L455.1 362.8 L460.5 360.7 L465.8 358.4 L471.2 355.8 L476.5 353.1 L481.9 350.9 L487.2 349.3 L492.6 347.6 L497.9 346.9 L503.3 346.6 L508.6 346.3 L514.0 344.4 L519.3 342.0 L524.7 339.4 L530.0 334.8 L535.4 328.4 L540.7 321.1 L546.0 313.1 L551.4 305.1 L556.7 297.6 L562.1 290.2 L567.4 282.6 L572.8 274.3 L578.1 266.0 L583.5 258.6 L588.8 251.4" fill="none" stroke="#a2a2a2" stroke-width="0.80" stroke-linejoin="round"/>
<path d="M96.9 347.2 L102.2 342.8 L107.6 338.4 L112.9 334.4 L118.3 331.8 L123.6 329.1 L129.0 326.5 L134.3 325.4 L139.7 324.5 L145.0 323.7 L150.4 322.9 L155.7 322.2 L161.1 321.9 L166.4 321.8 L171.8 323.1 L177.1 324.3 L182.5 325.7 L187.8 327.0 L193.1 328.3 L198.5 329.3 L203.8 330.1 L209.2 330.9 L214.5 331.7 L219.9 332.4 L225.2 332.2 L230.6 331.9 L235.9 331.6 L241.3 331.3 L246.6 331.1 L252.0 330.8 L257.3 330.5 L262.7 330.3 L268.0 330.0 L273.4 330.4 L278.7 330.8 L284.0 332.0 L289.4 333.6 L294.7 335.6 L300.1 338.1 L305.4 340.8 L310.8 343.5 L316.1 345.8 L321.5 347.9 L326.8 350.2 L332.2 352.3 L337.5 353.9 L342.9 357.4 L348.2 360.8 L353.6 365.2 L358.9 369.7 L364.2 373.5 L369.6 376.4 L374.9 378.8 L380.3 379.6 L385.6 380.3 L391.0 379.1 L396.3 377.6 L401.7 375.6 L407.0 373.2 L412.4 371.3 L417.7 369.7 L423.1 368.1 L428.4 365.1 L433.8 361.9 L439.1 359.2 L444.5 356.8 L449.8 354.9 L455.1 353.4 L460.5 352.0 L465.8 350.4 L471.2 348.4 L476.5 346.4 L481.9 344.9 L487.2 344.0 L492.6 343.0 L497.9 343.3 L503.3 343.9 L508.6 344.5 L514.0 343.6 L519.3 342.2 L524.7 340.4 L530.0 336.8 L535.4 331.7 L540.7 325.6 L546.0 318.8 L551.4 312.1 L556.7 305.8 L562.1 299.2 L567.4 291.6 L572.8 283.3 L578.1 275.0 L583.5 267.6 L588.8 260.4" fill="none" stroke="#a2a2a2" stroke-width="0.80" stroke-linejoin="round"/>
<path d="M96.9 371.2 L102.2 365.8 L107.6 360.4 L112.9 355.5 L118.3 351.9 L123.6 348.3 L129.0 344.7 L134.3 342.1 L139.7 339.6 L145.0 337.2 L150.4 334.8 L155.7 332.5 L161.1 330.5 L166.4 328.9 L171.8 329.3 L177.1 331.0 L182.5 332.9 L187.8 334.8 L193.1 336.7 L198.5 338.2 L203.8 339.5 L209.2 340.8 L214.5 342.3 L219.9 343.7 L225.2 344.1 L230.6 344.5 L235.9 344.9 L241.3 345.3 L246.6 345.7 L252.0 345.9 L257.3 346.1 L262.7 346.2 L268.0 346.3 L273.4 347.1 L278.7 348.0 L284.0 349.5 L289.4 351.6 L294.7 353.4 L300.1 355.6 L305.4 358.0 L310.8 360.4 L316.1 362.4 L321.5 364.3 L326.8 366.4 L332.2 368.3 L337.5 369.7 L342.9 373.0 L348.2 376.4 L353.6 380.6 L358.9 385.0 L364.2 388.7 L369.6 391.4 L374.9 394.2 L380.3 395.3 L385.6 396.5 L391.0 395.7 L396.3 394.6 L401.7 393.0 L407.0 390.9 L412.4 389.2 L417.7 387.2 L423.1 385.1 L428.4 381.7 L433.8 378.1 L439.1 375.0 L444.5 372.2 L449.8 369.9 L455.1 368.4 L460.5 367.0 L465.8 365.4 L471.2 363.4 L476.5 361.4 L481.9 359.9 L487.2 359.0 L492.6 357.5 L497.9 356.7 L503.3 356.2 L508.6 355.8 L514.0 353.8 L519.3 351.3 L524.7 348.5 L530.0 343.8 L535.4 338.7 L540.7 332.6 L546.0 325.8 L551.4 319.1 L556.7 312.8 L562.1 306.6 L567.4 300.2 L572.8 292.9 L578.1 285.7 L583.5 279.4 L588.8 273.4" fill="none" stroke="#a2a2a2" stroke-width="0.80" stroke-linejoin="round"/>
<path d="M96.9 389.2 L102.2 385.8 L107.6 382.3 L112.9 379.3 L118.3 377.6 L123.6 376.0 L129.0 374.3 L134.3 371.8 L139.7 369.2 L145.0 366.5 L150.4 363.8 L155.7 361.2 L161.1 359.0 L166.4 357.0 L171.8 356.6 L177.1 356.2 L182.5 355.9 L187.8 355.7 L193.1 355.4 L198.5 354.8 L203.8 354.0 L209.2 353.2 L214.5 353.2 L219.9 353.2 L225.2 352.3 L230.6 351.3 L235.9 350.4 L241.3 349.4 L246.6 348.5 L252.0 347.8 L257.3 347.3 L262.7 346.9 L268.0 346.5 L273.4 346.8 L278.7 347.1 L284.0 348.1 L289.4 349.6 L294.7 352.0 L300.1 354.9 L305.4 358.0 L310.8 361.0 L316.1 363.7 L321.5 366.2 L326.8 369.0 L332.2 372.1 L337.5 375.3 L342.9 380.5 L348.2 385.7 L353.6 391.8 L358.9 398.1 L364.2 403.7 L369.6 408.3 L374.9 411.5 L380.3 413.1 L385.6 414.7 L391.0 414.3 L396.3 413.6 L401.7 412.4 L407.0 410.7 L412.4 408.6 L417.7 405.2 L423.1 401.9 L428.4 397.1 L433.8 392.2 L439.1 387.7 L444.5 383.6 L449.8 379.9 L455.1 377.5 L460.5 375.1 L465.8 372.6 L471.2 369.7 L476.5 366.8 L481.9 364.3 L487.2 362.5 L492.6 360.9 L497.9 360.7 L503.3 360.9 L508.6 361.1 L514.0 359.8 L519.3 358.0 L524.7 355.8 L530.0 351.8 L535.4 346.7 L540.7 340.6 L546.0 333.8 L551.4 327.1 L556.7 320.8 L562.1 314.6 L567.4 307.9 L572.8 300.5 L578.1 293.1 L583.5 286.6 L588.8 280.4" fill="none" stroke="#a2a2a2" stroke-width="0.80" stroke-linejoin="round"/>
<path d="M96.9 397.2 L102.2 393.3 L107.6 389.3 L112.9 385.8 L118.3 383.7 L123.6 381.6 L129.0 379.4 L134.3 377.6 L139.7 375.9 L145.0 374.1 L150.4 372.4 L155.7 370.7 L161.1 369.4 L166.4 368.4 L171.8 368.9 L177.1 369.2 L182.5 369.8 L187.8 370.3 L193.1 370.9 L198.5 371.0 L203.8 371.0 L209.2 371.0 L214.5 371.2 L219.9 371.2 L225.2 370.3 L230.6 369.3 L235.9 368.4 L241.3 367.4 L246.6 366.5 L252.0 365.5 L257.3 364.2 L262.7 363.0 L268.0 361.8 L273.4 361.3 L278.7 360.8 L284.0 361.0 L289.4 361.7 L294.7 362.9 L300.1 364.6 L305.4 366.5 L310.8 368.4 L316.1 369.8 L321.5 371.2 L326.8 372.7 L332.2 375.1 L337.5 378.3 L342.9 383.5 L348.2 388.7 L353.6 394.8 L358.9 401.1 L364.2 406.7 L369.6 411.3 L374.9 415.4 L380.3 417.9 L385.6 420.4 L391.0 421.0 L396.3 421.2 L401.7 420.9 L407.0 420.2 L412.4 418.4 L417.7 414.6 L423.1 410.9 L428.4 405.7 L433.8 400.4 L439.1 395.6 L444.5 391.1 L449.8 387.0 L455.1 384.3 L460.5 381.6 L465.8 378.8 L471.2 375.6 L476.5 372.4 L481.9 369.7 L487.2 367.6 L492.6 365.9 L497.9 365.7 L503.3 365.9 L508.6 366.1 L514.0 364.8 L519.3 363.0 L524.7 360.8 L530.0 356.8 L535.4 353.3 L540.7 348.8 L546.0 343.7 L551.4 338.5 L556.7 333.8 L562.1 329.2 L567.4 324.2 L572.8 318.5 L578.1 312.7 L583.5 307.9 L588.8 303.3" fill="none" stroke="#a2a2a2" stroke-width="0.80" stroke-linejoin="round"/>
<path d="M96.9 357.2 L102.2 354.9 L107.6 352.5 L112.9 350.7 L118.3 350.2 L123.6 349.6 L129.0 349.1 L134.3 348.5 L139.7 347.8 L145.0 347.1 L150.4 346.5 L155.7 345.9 L161.1 345.6 L166.4 345.7 L171.8 347.2 L177.1 348.8 L182.5 350.6 L187.8 352.3 L193.1 354.1 L198.5 355.4 L203.8 356.7 L209.2 357.9 L214.5 358.8 L219.9 359.7 L225.2 359.6 L230.6 359.4 L235.9 359.3 L241.3 359.1 L246.6 359.0 L252.0 358.6 L257.3 357.6 L262.7 356.7 L268.0 355.7 L273.4 355.4 L278.7 355.3 L284.0 355.7 L289.4 356.7 L294.7 357.6 L300.1 358.9 L305.4 360.3 L310.8 361.8 L316.1 362.9 L321.5 363.8 L326.8 364.9 L332.2 366.2 L337.5 367.5 L342.9 370.7 L348.2 373.9 L353.6 378.0 L358.9 382.3 L364.2 385.8 L369.6 388.5 L374.9 392.2 L380.3 394.4 L385.6 396.6 L391.0 396.9 L396.3 396.9 L401.7 396.3 L407.0 395.3 L412.4 394.3 L417.7 392.5 L423.1 390.8 L428.4 387.6 L433.8 384.3 L439.1 381.5 L444.5 379.0 L449.8 376.9 L455.1 375.2 L460.5 373.5 L465.8 371.6 L471.2 369.3 L476.5 367.1 L481.9 365.3 L487.2 364.1 L492.6 362.9 L497.9 362.9 L503.3 363.2 L508.6 363.6 L514.0 362.4 L519.3 360.7 L524.7 358.7 L530.0 354.8 L535.4 350.9 L540.7 346.1 L546.0 340.6 L551.4 335.1 L556.7 330.0 L562.1 325.1 L567.4 319.7 L572.8 313.6 L578.1 307.5 L583.5 302.3 L588.8 297.4" fill="none" stroke="#a2a2a2" stroke-width="0.80" stroke-linejoin="round"/>
<path d="M96.9 379.2 L102.2 375.0 L107.6 370.7 L112.9 366.9 L118.3 364.4 L123.6 361.9 L129.0 359.5 L134.3 356.8 L139.7 354.2 L145.0 351.5 L150.4 348.8 L155.7 346.2 L161.1 344.0 L166.4 342.0 L171.8 341.9 L177.1 342.4 L182.5 343.1 L187.8 343.8 L193.1 344.5 L198.5 344.7 L203.8 344.9 L209.2 345.0 L214.5 346.2 L219.9 347.4 L225.2 347.7 L230.6 348.0 L235.9 348.2 L241.3 348.5 L246.6 348.7 L252.0 349.0 L257.3 349.4 L262.7 349.8 L268.0 350.2 L273.4 351.3 L278.7 352.4 L284.0 354.2 L289.4 356.5 L294.7 358.7 L300.1 361.4 L305.4 364.2 L310.8 367.0 L316.1 369.4 L321.5 371.7 L326.8 374.1 L332.2 376.6 L337.5 378.6 L342.9 382.6 L348.2 386.6 L353.6 391.5 L358.9 396.6 L364.2 401.0 L369.6 404.4 L374.9 407.0 L380.3 408.1 L385.6 409.1 L391.0 408.2 L396.3 406.9 L401.7 405.2 L407.0 403.0 L412.4 400.6 L417.7 397.4 L423.1 394.2 L428.4 389.5 L433.8 384.7 L439.1 380.5 L444.5 376.5 L449.8 372.9 L455.1 370.4 L460.5 367.9 L465.8 365.2 L471.2 362.2 L476.5 359.1 L481.9 356.5 L487.2 354.5 L492.6 353.0 L497.9 353.3 L503.3 353.9 L508.6 354.5 L514.0 353.6 L519.3 352.2 L524.7 350.4 L530.0 346.8 L535.4 343.4 L540.7 339.2 L546.0 334.2 L551.4 329.2 L556.7 324.7 L562.1 320.1 L567.4 314.9 L572.8 309.0 L578.1 303.1 L583.5 298.1 L588.8 293.4" fill="none" stroke="#a2a2a2" stroke-width="0.80" stroke-linejoin="round"/>
<path d="M96.9 332.2 L102.2 331.5 L107.6 330.8 L112.9 330.5 L118.3 331.6 L123.6 332.7 L129.0 333.8 L134.3 334.5 L139.7 335.2 L145.0 335.9 L150.4 336.5 L155.7 337.3 L161.1 338.4 L166.4 339.8 L171.8 342.4 L177.1 344.4 L182.5 346.5 L187.8 348.7 L193.1 350.8 L198.5 352.6 L203.8 354.2 L209.2 355.8 L214.5 356.7 L219.9 357.4 L225.2 357.2 L230.6 356.9 L235.9 356.6 L241.3 356.3 L246.6 356.1 L252.0 355.6 L257.3 354.6 L262.7 353.7 L268.0 352.7 L273.4 352.4 L278.7 352.3 L284.0 352.7 L289.4 353.7 L294.7 354.3 L300.1 355.4 L305.4 356.6 L310.8 357.8 L316.1 358.6 L321.5 359.2 L326.8 360.1 L332.2 361.3 L337.5 362.7 L342.9 366.0 L348.2 369.4 L353.6 373.6 L358.9 378.0 L364.2 381.7 L369.6 384.4 L374.9 387.0 L380.3 388.1 L385.6 389.1 L391.0 388.2 L396.3 386.9 L401.7 385.2 L407.0 383.0 L412.4 381.2 L417.7 379.3 L423.1 377.5 L428.4 374.1 L433.8 370.7 L439.1 367.7 L444.5 365.1 L449.8 362.9 L455.1 361.7 L460.5 360.5 L465.8 359.2 L471.2 357.5 L476.5 355.7 L481.9 354.5 L487.2 353.8 L492.6 353.4 L497.9 354.3 L503.3 355.6 L508.6 356.9 L514.0 356.6 L519.3 355.8 L524.7 354.8 L530.0 351.8 L535.4 350.2 L540.7 347.8 L546.0 344.5 L551.4 341.3 L556.7 338.6 L562.1 336.4 L567.4 334.3 L572.8 331.5 L578.1 328.7 L583.5 326.9 L588.8 325.3" fill="none" stroke="#a2a2a2" stroke-width="0.80" stroke-linejoin="round"/>
<path d="M96.9 382.2 L102.2 378.6 L107.6 375.0 L112.9 371.8 L118.3 370.0 L123.6 368.2 L129.0 366.3 L134.3 365.2 L139.7 364.3 L145.0 363.4 L150.4 362.4 L155.7 361.6 L161.1 361.1 L166.4 360.9 L171.8 362.2 L177.1 363.8 L182.5 365.6 L187.8 367.3 L193.1 369.1 L198.5 370.4 L203.8 371.7 L209.2 372.9 L214.5 373.3 L219.9 373.5 L225.2 372.6 L230.6 371.8 L235.9 371.0 L241.3 370.2 L246.6 369.4 L252.0 368.4 L257.3 367.1 L262.7 365.7 L268.0 364.4 L273.4 363.7 L278.7 363.1 L284.0 363.2 L289.4 363.7 L294.7 364.3 L300.1 365.4 L305.4 366.6 L310.8 367.8 L316.1 368.6 L321.5 369.2 L326.8 370.1 L332.2 371.4 L337.5 373.1 L342.9 376.7 L348.2 380.3 L353.6 384.7 L358.9 389.5 L364.2 393.4 L369.6 396.4 L374.9 400.8 L380.3 403.7 L385.6 406.6 L391.0 407.5 L396.3 408.2 L401.7 408.3 L407.0 408.0 L412.4 407.3 L417.7 405.5 L423.1 403.8 L428.4 400.6 L433.8 397.3 L439.1 394.5 L444.5 392.0 L449.8 389.9 L455.1 388.2 L460.5 386.5 L465.8 384.6 L471.2 382.3 L476.5 380.1 L481.9 378.3 L487.2 377.1 L492.6 375.5 L497.9 374.7 L503.3 374.2 L508.6 373.8 L514.0 371.8 L519.3 369.3 L524.7 366.5 L530.0 361.8 L535.4 358.8 L540.7 354.9 L546.0 350.3 L551.4 345.6 L556.7 341.5 L562.1 337.5 L567.4 333.2 L572.8 328.2 L578.1 323.2 L583.5 319.1 L588.8 315.3" fill="none" stroke="#a2a2a2" stroke-width="0.80" stroke-linejoin="round"/>
<path d="M96.9 362.2 L102.2 357.5 L107.6 352.7 L112.9 348.4 L118.3 345.5 L123.6 342.5 L129.0 339.6 L134.3 336.8 L139.7 334.2 L145.0 331.5 L150.4 328.8 L155.7 326.2 L161.1 324.0 L166.4 322.0 L171.8 322.2 L177.1 323.8 L182.5 325.6 L187.8 327.3 L193.1 329.1 L198.5 330.4 L203.8 331.7 L209.2 332.9 L214.5 334.4 L219.9 335.9 L225.2 336.5 L230.6 337.0 L235.9 337.5 L241.3 338.0 L246.6 338.6 L252.0 338.9 L257.3 338.9 L262.7 338.9 L268.0 338.9 L273.4 339.5 L278.7 340.3 L284.0 341.7 L289.4 343.6 L294.7 344.7 L300.1 346.1 L305.4 347.7 L310.8 349.3 L316.1 350.5 L321.5 351.6 L326.8 352.9 L332.2 354.5 L337.5 356.4 L342.9 360.3 L348.2 364.2 L353.6 368.9 L358.9 373.9 L364.2 378.1 L369.6 381.4 L374.9 385.7 L380.3 388.4 L385.6 391.2 L391.0 392.0 L396.3 392.5 L401.7 392.5 L407.0 392.0 L412.4 391.3 L417.7 389.7 L423.1 388.1 L428.4 385.1 L433.8 381.9 L439.1 379.2 L444.5 376.8 L449.8 374.9 L455.1 372.2 L460.5 369.4 L465.8 366.4 L471.2 363.1 L476.5 359.8 L481.9 356.9 L487.2 354.7 L492.6 352.1 L497.9 350.3 L503.3 348.9 L508.6 347.6 L514.0 344.6 L519.3 341.2 L524.7 337.4 L530.0 331.8 L535.4 325.9 L540.7 319.2 L546.0 311.7 L551.4 304.2 L556.7 297.2 L562.1 290.5 L567.4 283.6 L572.8 276.1 L578.1 268.5 L583.5 261.8 L588.8 255.4" fill="none" stroke="#a2a2a2" stroke-width="0.80" stroke-linejoin="round"/>
<path d="M96.9 375.2 L102.2 370.8 L107.6 366.4 L112.9 362.4 L118.3 359.8 L123.6 357.1 L129.0 354.5 L134.3 353.6 L139.7 353.0 L145.0 352.5 L150.4 352.0 L155.7 351.5 L161.1 351.4 L166.4 351.6 L171.8 353.2 L177.1 354.7 L182.5 356.3 L187.8 357.9 L193.1 359.5 L198.5 360.7 L203.8 361.8 L209.2 362.9 L214.5 362.8 L219.9 362.5 L225.2 361.1 L230.6 359.8 L235.9 358.4 L241.3 357.1 L246.6 355.8 L252.0 354.4 L257.3 352.9 L262.7 351.4 L268.0 349.9 L273.4 349.1 L278.7 348.4 L284.0 348.3 L289.4 348.7 L294.7 348.9 L300.1 349.4 L305.4 350.0 L310.8 350.7 L316.1 351.0 L321.5 351.1 L326.8 351.4 L332.2 352.0 L337.5 352.8 L342.9 355.4 L348.2 358.1 L353.6 361.6 L358.9 365.4 L364.2 368.4 L369.6 370.5 L374.9 374.5 L380.3 377.2 L385.6 379.8 L391.0 380.5 L396.3 380.8 L401.7 380.7 L407.0 380.1 L412.4 379.6 L417.7 378.5 L423.1 377.4 L428.4 374.9 L433.8 372.3 L439.1 370.1 L444.5 368.3 L449.8 366.9 L455.1 366.1 L460.5 365.3 L465.8 364.4 L471.2 363.1 L476.5 361.7 L481.9 360.9 L487.2 360.6 L492.6 360.1 L497.9 360.5 L503.3 361.2 L508.6 362.0 L514.0 361.2 L519.3 359.9 L524.7 358.3 L530.0 354.8 L535.4 350.2 L540.7 344.7 L546.0 338.5 L551.4 332.2 L556.7 326.5 L562.1 320.6 L567.4 314.2 L572.8 306.9 L578.1 299.7 L583.5 293.4 L588.8 287.4" fill="none" stroke="#a2a2a2" stroke-width="0.80" stroke-linejoin="round"/>
<path d="M97.0 395.0 L130.0 382.0 L170.0 372.0 L210.8 376.4 L232.4 386.1 L254.0 380.7 L275.6 368.8 L300.0 362.0 L314.8 367.2 L344.4 389.4 L364.2 424.0 L379.0 446.2 L391.4 454.8 L403.7 448.6 L416.0 431.4 L428.4 409.1 L440.7 396.8 L460.0 391.9 L490.0 385.0 L530.0 362.0 L560.0 342.0 L589.0 324.0" fill="none" stroke="#a2a2a2" stroke-width="0.80" stroke-linejoin="round"/>
<path d="M97.0 380.0 L140.0 374.0 L200.0 372.0 L243.0 376.4 L282.0 365.6 L305.0 362.0 L324.7 372.1 L349.4 399.3 L364.2 411.6 L381.5 419.0 L398.8 422.7 L411.1 419.0 L428.4 406.7 L448.1 394.3 L480.0 382.0 L520.0 368.0 L560.0 338.0 L589.0 316.0" fill="none" stroke="#a2a2a2" stroke-width="0.80" stroke-linejoin="round"/>
<path d="M96.9 367.2 L111.6 358.6 L133.2 353.2 L154.8 347.8 L165.6 346.0 L176.4 347.8 L182.3 349.0 L194.7 351.5 L219.4 354.0 L244.1 351.5 L268.8 349.0 L281.1 349.5 L293.5 352.7 L300.0 355.1 L312.3 360.0 L324.7 363.7 L337.0 368.6 L349.4 378.5 L361.7 390.9 L374.1 399.5 L386.4 403.7 L398.8 402.7 L411.1 399.5 L423.5 393.3 L435.8 383.5 L448.1 375.6 L464.7 369.0 L479.3 361.7 L494.0 357.3 L510.0 357.2 L523.9 351.7 L537.8 340.6 L551.7 325.3 L565.6 311.4 L579.4 294.7 L589.2 285.0" fill="none" stroke="#000" stroke-width="3.20" stroke-linejoin="round" stroke-linecap="butt"/>
<path d="M96.9 367.2 L111.6 358.6 L133.2 353.2 L148.0 349.0 L154.8 345.6 L165.6 339.1 L176.4 332.6 L187.2 325.1 L198.0 321.4 L207.0 319.4 L219.4 318.1 L231.7 319.4 L244.1 323.1 L256.4 328.0 L268.8 331.7 L281.1 336.7 L293.5 341.6 L305.8 346.5 L318.1 350.2 L330.0 352.5 L337.0 355.1 L349.4 366.2 L361.7 377.3 L374.1 385.9 L386.4 392.1 L398.8 397.0 L406.2 400.7 L418.5 397.0 L428.4 390.9 L435.8 384.7 L443.2 377.3 L460.0 372.3 L479.3 362.5 L494.0 358.5 L508.7 358.5 L523.3 355.0 L537.8 345.0 L548.9 331.5 L560.0 321.8 L581.5 299.6 L589.3 291.0" fill="none" stroke="#111" stroke-width="3.00" stroke-linejoin="round" stroke-linecap="butt" stroke-dasharray="7.4 7.4"/>
<path d="M96.9 326.0 L107.4 327.8 L113.5 330.3 L119.7 327.2 L128.4 329.7 L137.0 335.8 L145.0 350.0 L152.0 365.0 L158.0 378.0 L164.0 389.0 L172.5 386.4 L182.4 364.2 L194.7 351.8 L207.1 343.2 L210.8 343.2 L221.9 324.6 L228.1 319.0 L234.3 319.7 L240.0 322.0 L255.4 317.8 L270.9 302.4 L278.6 299.3 L286.3 299.3 L298.6 307.0 L306.4 304.0 L320.2 302.4 L329.6 297.0 L337.0 309.4 L349.4 324.2 L361.7 336.5 L371.6 345.2 L379.0 345.2 L385.2 334.1 L398.8 325.4 L411.1 315.6 L418.5 313.1 L425.9 313.1 L434.6 304.4 L448.1 294.6 L455.6 299.5 L460.0 304.4 L467.6 316.2 L479.3 326.5 L494.0 322.0 L510.0 321.0 L523.9 315.6 L537.8 305.8 L551.7 300.3 L562.8 300.3 L567.3 298.7 L579.0 292.8 L584.3 292.8 L584.3 310.4 L573.2 317.7 L561.4 314.8 L549.7 328.0 L538.0 357.3 L523.3 374.9 L508.7 377.8 L491.1 377.8 L475.0 368.0 L461.7 351.4 L450.0 328.0 L443.2 319.3 L433.3 334.1 L423.5 361.2 L411.1 363.7 L398.8 368.6 L385.0 375.0 L371.6 373.6 L361.7 366.2 L349.4 356.3 L340.0 340.0 L332.6 336.4 L323.3 344.1 L311.0 345.6 L300.2 347.2 L290.9 330.2 L281.7 328.6 L270.9 339.4 L255.4 342.5 L240.0 350.2 L231.8 348.1 L225.6 349.3 L219.4 355.5 L215.7 366.6 L209.6 379.0 L200.9 388.9 L189.8 398.8 L184.8 408.7 L180.7 419.0 L165.0 422.0 L154.8 422.0 L149.4 415.0 L142.0 411.2 L134.6 407.5 L132.0 400.0 L128.2 392.5 L123.5 380.1 L119.7 376.3 L115.1 377.0 L107.3 390.2 L96.9 390.2 Z" fill="rgb(118,148,202)" fill-opacity="0.30" stroke="none"/>
<path d="M96.9 308.4 L107.4 308.7 L119.7 312.4 L128.4 309.3 L135.8 311.1 L144.4 328.4 L151.9 344.5 L159.3 359.3 L165.5 369.2 L170.0 364.0 L175.0 355.0 L180.7 345.6 L191.5 324.0 L202.3 304.6 L213.1 295.9 L219.4 286.0 L226.8 283.6 L236.7 288.5 L249.0 284.8 L255.4 285.4 L264.7 277.7 L278.6 278.5 L289.4 275.4 L295.6 280.0 L309.4 283.9 L324.9 288.5 L329.6 295.0 L337.0 316.8 L349.4 341.5 L361.7 356.3 L374.1 361.2 L386.4 358.8 L398.8 361.2 L411.1 363.7 L423.5 353.8 L433.3 334.1 L443.2 324.2 L450.6 320.5 L458.0 325.0 L473.5 314.8 L496.9 311.8 L508.7 323.6 L517.4 316.2 L529.2 298.7 L535.0 276.7 L546.8 272.3 L558.5 264.9 L573.2 264.9 L573.2 301.6 L558.5 310.4 L546.8 328.0 L535.0 354.4 L523.3 372.0 L508.7 372.0 L494.0 377.8 L479.3 374.9 L464.7 386.6 L448.1 372.0 L435.8 376.0 L423.5 388.4 L411.1 398.3 L398.8 398.3 L386.4 393.3 L374.1 394.6 L361.7 390.9 L349.4 381.0 L340.0 365.7 L332.6 362.6 L320.2 358.0 L306.4 356.4 L298.0 325.0 L286.3 316.3 L270.9 316.3 L255.4 320.9 L240.0 320.9 L231.8 319.7 L224.4 320.9 L219.4 327.1 L212.0 343.2 L207.1 344.4 L200.9 376.5 L194.7 384.0 L187.2 387.7 L176.4 388.8 L165.6 391.0 L154.8 393.1 L144.0 389.0 L132.8 390.9 L130.0 384.0 L127.0 375.0 L124.0 368.0 L121.2 359.3 L118.0 358.5 L107.0 358.5 L96.9 359.5 Z" fill="rgb(158,172,105)" fill-opacity="0.30" stroke="none"/>
<path d="M96.9 358.1 L107.3 358.6 L119.2 351.6 L124.6 353.2 L131.0 365.0 L139.7 373.7 L148.3 388.8 L157.0 399.6 L167.8 405.0 L172.1 404.3 L180.7 394.2 L189.8 382.3 L199.6 376.2 L209.5 361.4 L216.9 354.0 L224.3 335.4 L230.5 333.0 L237.9 337.9 L246.5 333.0 L256.4 329.3 L266.3 328.0 L268.8 329.3 L276.2 316.9 L283.6 313.2 L291.0 314.4 L299.6 328.5 L308.3 325.0 L318.1 321.9 L327.2 314.8 L333.3 318.0 L343.2 340.2 L349.4 345.2 L359.3 360.0 L370.4 368.6 L379.0 368.6 L385.2 360.7 L390.1 361.2 L396.3 354.3 L401.2 355.1 L408.6 348.9 L418.5 342.7 L423.5 340.2 L434.6 318.0 L440.7 313.1 L444.4 311.9 L449.4 306.9 L455.6 317.5 L464.7 336.8 L473.5 345.6 L482.3 352.9 L491.1 352.9 L502.8 352.9 L514.5 351.4 L521.8 347.0 L529.2 348.5 L538.0 339.7 L546.8 325.0 L552.6 308.9 L558.5 307.4 L564.4 308.9 L573.2 311.8 L579.0 307.4 L584.3 301.6" fill="none" stroke="#2b7aaa" stroke-width="3.00" stroke-linejoin="round" stroke-linecap="butt"/>
<path d="M96.9 338.0 L107.3 335.9 L115.9 334.8 L122.4 339.1 L133.2 349.9 L144.0 360.7 L154.8 373.7 L165.6 381.9 L172.1 380.2 L182.3 363.8 L194.7 349.0 L207.0 331.7 L219.4 312.0 L226.8 305.8 L244.1 307.0 L263.8 299.1 L276.2 299.1 L289.8 294.2 L299.0 304.5 L307.0 318.0 L317.3 326.7 L327.2 332.8 L337.0 346.4 L344.4 361.2 L354.3 373.6 L364.2 382.2 L374.1 384.0 L381.5 382.2 L390.1 374.1 L396.3 374.1 L403.7 381.0 L411.1 384.7 L418.5 379.8 L428.4 366.2 L440.7 351.4 L450.6 343.5 L458.8 350.0 L467.6 352.9 L479.3 349.1 L494.0 345.6 L508.7 348.5 L517.4 345.6 L526.2 333.8 L538.0 316.2 L549.7 291.3 L558.5 284.0 L567.3 282.5 L573.2 279.6" fill="none" stroke="#778c38" stroke-width="3.00" stroke-linejoin="round" stroke-linecap="butt"/>
<path d="M537.8 337.0 L546.8 326.0 L555.8 317.0 L565.6 305.0 L575.3 293.3 L583.6 281.5 L589.0 273.0" fill="none" stroke="#000" stroke-width="2.80" stroke-linejoin="round" stroke-linecap="butt" stroke-dasharray="2.8 4.3"/>
</g>
<g stroke="#a5231a" stroke-width="2.6" fill="none"><line x1="594.3" y1="257.6" x2="594.3" y2="292.8"/><line x1="589.1" y1="257.6" x2="599.5" y2="257.6"/><line x1="589.1" y1="292.8" x2="599.5" y2="292.8"/></g>
<circle cx="594.3" cy="274.6" r="4.6" fill="#a5231a"/>
<g clip-path="url(#cpc)">
<line x1="46.4" y1="654.4" x2="634.6" y2="654.4" stroke="#c9c9c9" stroke-width="1.5" stroke-dasharray="7.4 7.4"/>
<path d="M46.4 655.1 L52.4 654.7 L58.4 654.3 L64.4 653.7 L70.4 652.7 L76.4 651.7 L82.4 651.4 L88.4 651.8 L94.4 652.3 L100.4 652.0 L106.4 651.2 L112.4 650.5 L118.4 650.2 L124.4 649.8 L130.4 648.8 L136.4 647.1 L142.4 645.0 L148.5 643.4 L154.5 642.7 L160.5 642.4 L166.5 641.7 L172.5 640.6 L178.5 639.4 L184.5 638.9 L190.5 638.2 L196.5 637.2 L202.5 635.4 L208.5 632.9 L214.5 631.0 L220.5 629.8 L226.5 628.5 L232.5 627.1 L238.5 625.2 L244.5 623.0 L250.5 621.6 L256.5 620.9 L262.5 620.7 L268.5 619.9 L274.5 617.7 L280.5 615.2 L286.5 613.0 L292.5 611.4 L298.5 610.5 L304.5 609.0 L310.5 609.0 L316.5 609.1 L322.5 607.5 L328.5 606.8 L334.5 606.8 L340.5 606.1 L346.5 604.3 L352.6 602.3 L358.6 600.3 L364.6 598.4 L370.6 595.6 L376.6 591.9 L382.6 588.1 L388.6 585.2 L394.6 583.4 L400.6 582.4 L406.6 580.8 L412.6 578.5 L418.6 580.2 L424.6 581.4 L430.6 581.8 L436.6 580.8 L442.6 578.9 L448.6 575.6 L454.6 572.2 L460.6 569.2 L466.6 566.9 L472.6 564.5 L478.6 561.6 L484.6 558.2 L490.6 555.2 L496.6 553.0 L502.6 551.1 L508.6 548.7 L514.6 545.4 L520.6 541.7 L526.6 538.2 L532.6 535.5 L538.6 533.0 L544.6 530.0 L550.7 526.6 L556.7 523.0 L562.7 519.9 L568.7 517.5 L574.7 515.2 L580.7 512.5 L586.7 509.9 L592.7 507.2 L598.7 504.9 L604.7 503.0 L610.7 500.6 L616.7 497.5 L622.7 494.0 L628.7 491.0 L634.7 488.9" fill="none" stroke="#a2a2a2" stroke-width="0.80" stroke-linejoin="round"/>
<path d="M46.4 655.1 L52.4 654.6 L58.4 654.0 L64.4 653.6 L70.4 653.7 L76.4 654.1 L82.4 654.2 L88.4 653.7 L94.4 653.0 L100.4 652.7 L106.4 652.7 L112.4 652.3 L118.4 651.0 L124.4 649.2 L130.4 648.0 L136.4 647.6 L142.4 647.6 L148.5 647.2 L154.5 646.3 L160.5 645.1 L166.5 644.4 L172.5 644.2 L178.5 643.9 L184.5 642.7 L190.5 640.3 L196.5 637.9 L202.5 636.1 L208.5 635.2 L214.5 634.7 L220.5 633.7 L226.5 631.9 L232.5 630.5 L238.5 629.7 L244.5 629.2 L250.5 628.3 L256.5 626.6 L262.5 624.5 L268.5 622.7 L274.5 621.0 L280.5 619.5 L286.5 617.7 L292.5 615.4 L298.5 613.9 L304.5 613.2 L310.5 615.1 L316.5 617.0 L322.5 615.6 L328.5 613.7 L334.5 612.4 L340.5 611.6 L346.5 610.6 L352.6 608.9 L358.6 606.2 L364.6 602.9 L370.6 599.7 L376.6 597.2 L382.6 595.6 L388.6 593.9 L394.6 592.0 L400.6 590.1 L406.6 588.4 L412.6 586.8 L418.6 589.4 L424.6 590.3 L430.6 589.0 L436.6 586.5 L442.6 584.5 L448.6 582.5 L454.6 580.7 L460.6 578.2 L466.6 575.4 L472.6 572.8 L478.6 570.9 L484.6 569.1 L490.6 566.8 L496.6 563.7 L502.6 559.9 L508.6 556.4 L514.6 553.4 L520.6 550.8 L526.6 547.9 L532.6 544.6 L538.6 541.5 L544.6 539.0 L550.7 537.4 L556.7 535.7 L562.7 532.9 L568.7 529.5 L574.7 525.8 L580.7 522.8 L586.7 520.9 L592.7 518.6 L598.7 515.8 L604.7 512.5 L610.7 509.6 L616.7 507.6 L622.7 506.2 L628.7 504.7 L634.7 502.6" fill="none" stroke="#a2a2a2" stroke-width="0.80" stroke-linejoin="round"/>
<path d="M46.4 655.1 L52.4 654.9 L58.4 655.0 L64.4 655.1 L70.4 654.9 L76.4 654.4 L82.4 654.2 L88.4 654.3 L94.4 654.1 L100.4 653.3 L106.4 652.2 L112.4 651.5 L118.4 651.5 L124.4 651.8 L130.4 652.0 L136.4 651.4 L142.4 650.4 L148.5 649.5 L154.5 649.2 L160.5 648.8 L166.5 647.8 L172.5 646.1 L178.5 644.3 L184.5 643.2 L190.5 642.4 L196.5 641.7 L202.5 640.6 L208.5 639.1 L214.5 638.3 L220.5 638.1 L226.5 637.7 L232.5 636.9 L238.5 635.1 L244.5 632.7 L250.5 630.7 L256.5 629.4 L262.5 628.6 L268.5 627.5 L274.5 625.6 L280.5 623.5 L286.5 622.2 L292.5 621.7 L298.5 621.9 L304.5 621.4 L310.5 622.1 L316.5 622.5 L322.5 620.7 L328.5 619.4 L334.5 618.8 L340.5 617.7 L346.5 615.5 L352.6 613.4 L358.6 611.8 L364.6 610.7 L370.6 609.0 L376.6 606.4 L382.6 603.7 L388.6 601.5 L394.6 600.1 L400.6 599.0 L406.6 597.1 L412.6 594.2 L418.6 595.3 L424.6 596.0 L430.6 596.2 L436.6 595.5 L442.6 594.3 L448.6 592.0 L454.6 589.7 L460.6 587.8 L466.6 586.4 L472.6 584.5 L478.6 581.7 L484.6 578.1 L490.6 574.5 L496.6 571.6 L502.6 569.2 L508.6 566.6 L514.6 563.5 L520.6 560.3 L526.6 557.7 L532.6 556.0 L538.6 554.6 L544.6 552.7 L550.7 549.9 L556.7 546.6 L562.7 543.2 L568.7 540.4 L574.7 537.5 L580.7 534.3 L586.7 531.2 L592.7 528.5 L598.7 526.6 L604.7 525.4 L610.7 524.2 L616.7 522.3 L622.7 519.8 L628.7 517.5 L634.7 515.8" fill="none" stroke="#a2a2a2" stroke-width="0.80" stroke-linejoin="round"/>
<path d="M46.4 655.1 L52.4 655.2 L58.4 655.0 L64.4 654.8 L70.4 654.7 L76.4 654.8 L82.4 654.4 L88.4 653.5 L94.4 653.0 L100.4 653.3 L106.4 654.2 L112.4 655.0 L118.4 654.8 L124.4 653.9 L130.4 653.2 L136.4 652.9 L142.4 652.6 L148.5 651.7 L154.5 650.1 L160.5 648.4 L166.5 647.3 L172.5 647.2 L178.5 647.4 L184.5 647.1 L190.5 645.8 L196.5 644.5 L202.5 643.6 L208.5 643.3 L214.5 643.1 L220.5 642.0 L226.5 639.8 L232.5 637.7 L238.5 636.2 L244.5 635.3 L250.5 634.4 L256.5 633.1 L262.5 631.7 L268.5 630.9 L274.5 630.3 L280.5 629.8 L286.5 628.8 L292.5 627.0 L298.5 625.5 L304.5 624.3 L310.5 625.6 L316.5 626.8 L322.5 625.0 L328.5 622.9 L334.5 621.9 L340.5 621.6 L346.5 621.5 L352.6 621.0 L358.6 619.4 L364.6 617.0 L370.6 614.3 L376.6 611.9 L382.6 609.9 L388.6 607.8 L394.6 605.2 L400.6 602.8 L406.6 600.7 L412.6 599.2 L418.6 602.3 L424.6 604.1 L430.6 603.9 L436.6 602.5 L442.6 601.4 L448.6 600.1 L454.6 598.5 L460.6 595.9 L466.6 592.7 L472.6 589.4 L478.6 586.8 L484.6 584.6 L490.6 582.3 L496.6 579.5 L502.6 576.5 L508.6 574.0 L514.6 572.1 L520.6 570.5 L526.6 568.4 L532.6 565.5 L538.6 562.4 L544.6 559.5 L550.7 557.3 L556.7 554.9 L562.7 551.7 L568.7 548.1 L574.7 544.6 L580.7 542.3 L586.7 541.2 L592.7 540.1 L598.7 538.4 L604.7 536.0 L610.7 533.6 L616.7 531.6 L622.7 529.9 L628.7 527.9 L634.7 525.2" fill="none" stroke="#a2a2a2" stroke-width="0.80" stroke-linejoin="round"/>
<path d="M46.4 655.1 L52.4 655.0 L58.4 655.0 L64.4 654.9 L70.4 654.5 L76.4 654.1 L82.4 654.3 L88.4 655.3 L94.4 656.2 L100.4 656.4 L106.4 655.9 L112.4 655.4 L118.4 655.1 L124.4 655.0 L130.4 654.5 L136.4 653.3 L142.4 651.8 L148.5 650.8 L154.5 650.6 L160.5 651.0 L166.5 651.0 L172.5 650.4 L178.5 649.6 L184.5 649.2 L190.5 648.7 L196.5 648.0 L202.5 646.5 L208.5 644.4 L214.5 642.9 L220.5 642.0 L226.5 641.4 L232.5 640.7 L238.5 639.5 L244.5 638.0 L250.5 637.0 L256.5 636.7 L262.5 636.7 L268.5 636.2 L274.5 634.4 L280.5 632.0 L286.5 630.1 L292.5 628.8 L298.5 628.4 L304.5 627.6 L310.5 628.4 L316.5 629.1 L322.5 628.0 L328.5 627.8 L334.5 628.3 L340.5 628.1 L346.5 626.5 L352.6 624.6 L358.6 622.8 L364.6 621.2 L370.6 618.9 L376.6 615.7 L382.6 612.5 L388.6 610.1 L394.6 608.9 L400.6 608.5 L406.6 607.6 L412.6 605.8 L418.6 607.9 L424.6 609.3 L430.6 609.8 L436.6 609.1 L442.6 607.5 L448.6 604.6 L454.6 601.6 L460.6 599.1 L466.6 597.3 L472.6 595.6 L478.6 593.5 L484.6 590.8 L490.6 588.2 L496.6 586.3 L502.6 584.7 L508.6 582.6 L514.6 579.6 L520.6 576.1 L526.6 572.9 L532.6 570.4 L538.6 568.5 L544.6 566.2 L550.7 563.5 L556.7 560.6 L562.7 557.9 L568.7 556.1 L574.7 554.3 L580.7 552.1 L586.7 549.7 L592.7 547.1 L598.7 545.0 L604.7 543.3 L610.7 541.4 L616.7 538.8 L622.7 535.9 L628.7 533.5 L634.7 532.0" fill="none" stroke="#a2a2a2" stroke-width="0.80" stroke-linejoin="round"/>
<path d="M46.4 655.1 L52.4 655.0 L58.4 654.9 L64.4 654.9 L70.4 655.5 L76.4 656.3 L82.4 656.8 L88.4 656.5 L94.4 655.9 L100.4 655.7 L106.4 655.9 L112.4 656.0 L118.4 655.2 L124.4 654.0 L130.4 653.3 L136.4 653.4 L142.4 654.0 L148.5 654.2 L154.5 653.6 L160.5 652.7 L166.5 652.1 L172.5 652.0 L178.5 651.8 L184.5 651.0 L190.5 649.0 L196.5 647.0 L202.5 645.6 L208.5 645.2 L214.5 645.4 L220.5 645.1 L226.5 643.9 L232.5 642.7 L238.5 642.1 L244.5 641.7 L250.5 641.1 L256.5 639.6 L262.5 637.8 L268.5 636.1 L274.5 634.8 L280.5 633.8 L286.5 632.7 L292.5 631.1 L298.5 630.2 L304.5 629.8 L310.5 632.1 L316.5 634.3 L322.5 633.3 L328.5 631.6 L334.5 630.4 L340.5 629.7 L346.5 628.9 L352.6 627.7 L358.6 625.5 L364.6 622.8 L370.6 620.1 L376.6 618.1 L382.6 617.0 L388.6 616.0 L394.6 614.4 L400.6 612.8 L406.6 611.1 L412.6 609.7 L418.6 612.4 L424.6 613.6 L430.6 612.7 L436.6 610.7 L442.6 609.1 L448.6 607.7 L454.6 606.5 L460.6 604.7 L466.6 602.4 L472.6 600.1 L478.6 598.4 L484.6 596.8 L490.6 594.7 L496.6 591.8 L502.6 588.3 L508.6 585.0 L514.6 582.3 L520.6 580.2 L526.6 578.0 L532.6 575.4 L538.6 572.8 L544.6 570.8 L550.7 569.5 L556.7 568.1 L562.7 565.7 L568.7 562.5 L574.7 558.9 L580.7 556.0 L586.7 554.3 L592.7 552.5 L598.7 550.2 L604.7 547.5 L610.7 545.1 L616.7 543.6 L622.7 542.8 L628.7 541.8 L634.7 540.1" fill="none" stroke="#a2a2a2" stroke-width="0.80" stroke-linejoin="round"/>
<path d="M46.4 655.1 L52.4 655.3 L58.4 655.7 L64.4 656.1 L70.4 656.1 L76.4 655.7 L82.4 655.5 L88.4 655.8 L94.4 656.0 L100.4 655.8 L106.4 655.1 L112.4 654.9 L118.4 655.3 L124.4 656.0 L130.4 656.6 L136.4 656.3 L142.4 655.4 L148.5 654.6 L154.5 654.2 L160.5 654.0 L166.5 653.3 L172.5 652.0 L178.5 650.6 L184.5 649.9 L190.5 649.5 L196.5 649.3 L202.5 648.8 L208.5 647.7 L214.5 647.1 L220.5 646.9 L226.5 646.6 L232.5 645.9 L238.5 644.3 L244.5 642.1 L250.5 640.3 L256.5 639.2 L262.5 638.9 L268.5 638.5 L274.5 637.1 L280.5 635.6 L286.5 634.5 L292.5 634.2 L298.5 634.6 L304.5 634.4 L310.5 635.2 L316.5 635.6 L322.5 633.8 L328.5 632.7 L334.5 632.6 L340.5 631.9 L346.5 630.3 L352.6 628.7 L358.6 627.5 L364.6 626.7 L370.6 625.5 L376.6 623.2 L382.6 620.6 L388.6 618.4 L394.6 616.9 L400.6 616.0 L406.6 614.4 L412.6 611.9 L418.6 613.4 L424.6 614.5 L430.6 615.1 L436.6 615.0 L442.6 614.3 L448.6 612.4 L454.6 610.4 L460.6 608.5 L466.6 607.0 L472.6 605.3 L478.6 602.8 L484.6 599.3 L490.6 596.0 L496.6 593.3 L502.6 591.4 L508.6 589.4 L514.6 586.9 L520.6 584.2 L526.6 581.8 L532.6 580.3 L538.6 579.2 L544.6 577.4 L550.7 574.8 L556.7 571.5 L562.7 568.2 L568.7 565.5 L574.7 563.0 L580.7 560.4 L586.7 557.9 L592.7 555.6 L598.7 554.1 L604.7 553.3 L610.7 552.5 L616.7 550.9 L622.7 548.6 L628.7 546.3 L634.7 544.5" fill="none" stroke="#a2a2a2" stroke-width="0.80" stroke-linejoin="round"/>
<path d="M46.4 655.1 L52.4 655.4 L58.4 655.4 L64.4 655.3 L70.4 655.4 L76.4 655.8 L82.4 655.8 L88.4 655.5 L94.4 655.4 L100.4 656.0 L106.4 657.2 L112.4 658.2 L118.4 658.3 L124.4 657.4 L130.4 656.6 L136.4 656.3 L142.4 656.1 L148.5 655.6 L154.5 654.4 L160.5 653.1 L166.5 652.4 L172.5 652.7 L178.5 653.3 L184.5 653.5 L190.5 652.5 L196.5 651.3 L202.5 650.4 L208.5 650.0 L214.5 649.9 L220.5 649.1 L226.5 647.1 L232.5 645.2 L238.5 644.0 L244.5 643.5 L250.5 643.2 L256.5 642.4 L262.5 641.5 L268.5 640.8 L274.5 640.3 L280.5 639.9 L286.5 639.1 L292.5 637.4 L298.5 635.9 L304.5 634.7 L310.5 636.2 L316.5 637.9 L322.5 636.6 L328.5 635.1 L334.5 634.4 L340.5 634.5 L346.5 634.6 L352.6 634.4 L358.6 633.0 L364.6 630.7 L370.6 627.9 L376.6 625.5 L382.6 623.7 L388.6 621.9 L394.6 619.7 L400.6 617.7 L406.6 616.0 L412.6 614.9 L418.6 618.4 L424.6 620.6 L430.6 620.8 L436.6 619.5 L442.6 618.3 L448.6 617.0 L454.6 615.5 L460.6 613.2 L466.6 610.1 L472.6 607.1 L478.6 604.8 L484.6 603.0 L490.6 601.3 L496.6 599.1 L502.6 596.5 L508.6 594.1 L514.6 592.3 L520.6 590.8 L526.6 588.8 L532.6 586.1 L538.6 583.0 L544.6 580.2 L550.7 578.1 L556.7 576.2 L562.7 573.6 L568.7 570.5 L574.7 567.4 L580.7 565.4 L586.7 564.6 L592.7 563.8 L598.7 562.2 L604.7 559.9 L610.7 557.4 L616.7 555.4 L622.7 553.9 L628.7 552.1 L634.7 549.9" fill="none" stroke="#a2a2a2" stroke-width="0.80" stroke-linejoin="round"/>
<path d="M46.4 655.1 L52.4 655.2 L58.4 655.4 L64.4 655.6 L70.4 655.6 L76.4 655.6 L82.4 656.1 L88.4 657.3 L94.4 658.4 L100.4 658.7 L106.4 658.3 L112.4 657.7 L118.4 657.5 L124.4 657.5 L130.4 657.3 L136.4 656.6 L142.4 655.5 L148.5 654.9 L154.5 655.1 L160.5 655.8 L166.5 656.2 L172.5 655.8 L178.5 655.1 L184.5 654.6 L190.5 654.0 L196.5 653.4 L202.5 652.1 L208.5 650.4 L214.5 649.1 L220.5 648.6 L226.5 648.4 L232.5 648.2 L238.5 647.5 L244.5 646.4 L250.5 645.5 L256.5 645.1 L262.5 645.2 L268.5 644.8 L274.5 643.1 L280.5 640.8 L286.5 639.0 L292.5 637.9 L298.5 638.0 L304.5 637.7 L310.5 639.0 L316.5 640.1 L322.5 639.2 L328.5 639.2 L334.5 639.9 L340.5 639.8 L346.5 638.3 L352.6 636.4 L358.6 634.6 L364.6 633.0 L370.6 631.1 L376.6 628.4 L382.6 625.6 L388.6 623.6 L394.6 622.7 L400.6 622.7 L406.6 622.2 L412.6 620.7 L418.6 622.8 L424.6 624.1 L430.6 624.5 L436.6 623.9 L442.6 622.6 L448.6 620.0 L454.6 617.3 L460.6 615.1 L466.6 613.7 L472.6 612.5 L478.6 610.9 L484.6 608.5 L490.6 606.1 L496.6 604.1 L502.6 602.5 L508.6 600.6 L514.6 597.7 L520.6 594.3 L526.6 591.2 L532.6 589.0 L538.6 587.4 L544.6 585.7 L550.7 583.5 L556.7 581.0 L562.7 578.6 L568.7 576.9 L574.7 575.2 L580.7 573.2 L586.7 570.8 L592.7 568.3 L598.7 566.1 L604.7 564.5 L610.7 562.9 L616.7 560.9 L622.7 558.5 L628.7 556.4 L634.7 555.2" fill="none" stroke="#a2a2a2" stroke-width="0.80" stroke-linejoin="round"/>
<path d="M46.4 655.1 L52.4 655.3 L58.4 655.5 L64.4 655.8 L70.4 656.6 L76.4 657.7 L82.4 658.4 L88.4 658.1 L94.4 657.5 L100.4 657.4 L106.4 657.8 L112.4 658.3 L118.4 658.1 L124.4 657.3 L130.4 657.0 L136.4 657.5 L142.4 658.3 L148.5 658.8 L154.5 658.4 L160.5 657.5 L166.5 656.8 L172.5 656.7 L178.5 656.7 L184.5 656.2 L190.5 654.6 L196.5 652.9 L202.5 651.9 L208.5 651.9 L214.5 652.6 L220.5 652.8 L226.5 651.8 L232.5 650.7 L238.5 650.0 L244.5 649.7 L250.5 649.2 L256.5 647.9 L262.5 646.2 L268.5 644.8 L274.5 643.7 L280.5 643.2 L286.5 642.6 L292.5 641.6 L298.5 641.0 L304.5 640.8 L310.5 643.2 L316.5 645.5 L322.5 644.6 L328.5 643.0 L334.5 641.9 L340.5 641.2 L346.5 640.5 L352.6 639.7 L358.6 638.1 L364.6 635.9 L370.6 633.7 L376.6 632.0 L382.6 631.1 L388.6 630.4 L394.6 629.1 L400.6 627.5 L406.6 625.7 L412.6 624.2 L418.6 627.1 L424.6 628.6 L430.6 628.1 L436.6 626.4 L442.6 625.2 L448.6 624.2 L454.6 623.5 L460.6 622.2 L466.6 620.2 L472.6 618.0 L478.6 616.1 L484.6 614.5 L490.6 612.6 L496.6 609.9 L502.6 606.5 L508.6 603.4 L514.6 601.1 L520.6 599.4 L526.6 597.7 L532.6 595.6 L538.6 593.4 L544.6 591.6 L550.7 590.4 L556.7 589.1 L562.7 586.9 L568.7 583.7 L574.7 580.2 L580.7 577.3 L586.7 575.7 L592.7 574.4 L598.7 572.6 L604.7 570.4 L610.7 568.5 L616.7 567.3 L622.7 566.7 L628.7 566.0 L634.7 564.5" fill="none" stroke="#a2a2a2" stroke-width="0.80" stroke-linejoin="round"/>
<path d="M46.4 655.1 L52.4 655.6 L58.4 656.3 L64.4 657.0 L70.4 657.1 L76.4 656.9 L82.4 656.8 L88.4 657.3 L94.4 658.1 L100.4 658.4 L106.4 658.4 L112.4 658.5 L118.4 659.2 L124.4 660.3 L130.4 661.1 L136.4 661.1 L142.4 660.2 L148.5 659.4 L154.5 659.0 L160.5 659.0 L166.5 658.8 L172.5 658.0 L178.5 657.0 L184.5 656.7 L190.5 656.8 L196.5 657.1 L202.5 657.0 L208.5 656.3 L214.5 655.7 L220.5 655.5 L226.5 655.2 L232.5 654.7 L238.5 653.4 L244.5 651.5 L250.5 650.0 L256.5 649.3 L262.5 649.5 L268.5 649.7 L274.5 648.9 L280.5 647.7 L286.5 646.8 L292.5 646.6 L298.5 647.1 L304.5 647.0 L310.5 648.0 L316.5 648.5 L322.5 646.9 L328.5 646.1 L334.5 646.4 L340.5 646.4 L346.5 645.4 L352.6 644.2 L358.6 643.3 L364.6 642.8 L370.6 641.8 L376.6 639.8 L382.6 637.3 L388.6 635.0 L394.6 633.6 L400.6 632.9 L406.6 631.7 L412.6 629.7 L418.6 631.7 L424.6 633.2 L430.6 634.3 L436.6 634.6 L442.6 634.4 L448.6 632.8 L454.6 630.8 L460.6 628.9 L466.6 627.5 L472.6 625.9 L478.6 623.7 L484.6 620.6 L490.6 617.5 L496.6 615.3 L502.6 613.8 L508.6 612.4 L514.6 610.5 L520.6 608.1 L526.6 606.0 L532.6 604.5 L538.6 603.5 L544.6 601.9 L550.7 599.5 L556.7 596.3 L562.7 593.1 L568.7 590.8 L574.7 588.7 L580.7 586.7 L586.7 584.9 L592.7 583.0 L598.7 581.8 L604.7 581.2 L610.7 580.6 L616.7 579.2 L622.7 577.1 L628.7 574.8 L634.7 573.0" fill="none" stroke="#a2a2a2" stroke-width="0.80" stroke-linejoin="round"/>
<path d="M46.4 655.1 L52.4 655.7 L58.4 656.0 L64.4 656.2 L70.4 656.7 L76.4 657.5 L82.4 658.2 L88.4 658.5 L94.4 658.9 L100.4 659.8 L106.4 661.3 L112.4 662.6 L118.4 662.9 L124.4 662.3 L130.4 661.6 L136.4 661.4 L142.4 661.6 L148.5 661.6 L154.5 661.1 L160.5 660.4 L166.5 660.2 L172.5 660.9 L178.5 662.0 L184.5 662.7 L190.5 662.0 L196.5 660.9 L202.5 660.1 L208.5 659.8 L214.5 660.0 L220.5 659.6 L226.5 658.1 L232.5 656.7 L238.5 655.9 L244.5 656.0 L250.5 656.4 L256.5 656.2 L262.5 655.6 L268.5 655.2 L274.5 654.7 L280.5 654.5 L286.5 653.9 L292.5 652.6 L298.5 651.3 L304.5 650.5 L310.5 652.4 L316.5 654.7 L322.5 654.1 L328.5 653.2 L334.5 653.1 L340.5 653.5 L346.5 653.8 L352.6 653.9 L358.6 652.8 L364.6 650.7 L370.6 648.0 L376.6 645.7 L382.6 644.2 L388.6 643.0 L394.6 641.5 L400.6 640.1 L406.6 638.9 L412.6 638.2 L418.6 642.2 L424.6 644.9 L430.6 645.4 L436.6 644.3 L442.6 643.1 L448.6 641.9 L454.6 640.7 L460.6 638.8 L466.6 636.3 L472.6 633.7 L478.6 631.9 L484.6 630.6 L490.6 629.6 L496.6 628.0 L502.6 625.8 L508.6 623.6 L514.6 621.9 L520.6 620.6 L526.6 618.8 L532.6 616.4 L538.6 613.6 L544.6 611.1 L550.7 609.4 L556.7 608.0 L562.7 606.1 L568.7 603.7 L574.7 601.2 L580.7 599.4 L586.7 598.9 L592.7 598.3 L598.7 597.1 L604.7 595.0 L610.7 592.6 L616.7 590.8 L622.7 589.5 L628.7 588.4 L634.7 586.8" fill="none" stroke="#a2a2a2" stroke-width="0.80" stroke-linejoin="round"/>
<path d="M46.4 655.0 L80.7 662.5 L110.8 673.6 L138.6 671.8 L171.0 675.9 L196.0 672.5 L224.7 671.1 L247.9 668.8 L278.0 666.9 L303.4 660.7 L319.6 664.2 L340.0 666.0 L379.4 658.4 L411.5 649.8 L436.2 657.9 L490.0 641.1 L504.7 640.0 L554.1 618.3 L578.8 608.4 L603.5 581.2 L628.1 568.9 L634.5 566.0" fill="none" stroke="#a2a2a2" stroke-width="0.80" stroke-linejoin="round"/>
<path d="M46.4 655.1 L69.1 655.6 L92.3 656.3 L115.4 656.7 L138.6 655.6 L161.7 653.7 L184.9 652.1 L207.4 648.4 L220.1 647.5 L231.7 645.6 L244.4 643.3 L256.0 641.5 L268.7 639.9 L280.3 637.5 L291.9 635.2 L304.6 634.1 L316.2 636.9 L327.7 634.5 L342.3 633.7 L354.7 631.2 L367.0 627.5 L379.4 622.6 L391.7 618.9 L404.1 616.4 L412.7 614.0 L421.4 617.7 L428.8 618.4 L441.1 616.4 L453.5 612.7 L465.8 608.5 L480.0 603.5 L504.7 593.6 L529.4 583.7 L554.1 575.1 L578.8 564.0 L603.5 556.5 L628.1 549.1 L634.5 547.2" fill="none" stroke="#000" stroke-width="3.20" stroke-linejoin="round" stroke-linecap="butt"/>
<path d="M46.4 652.8 L69.1 653.3 L92.3 654.0 L115.4 654.4 L138.6 653.3 L161.7 651.4 L184.9 649.8 L207.4 646.1 L220.1 645.2 L231.7 643.3 L244.4 641.0 L256.0 639.2 L268.7 637.6 L280.3 635.2 L291.9 632.9 L304.6 631.8 L316.2 634.6 L327.7 632.2 L342.3 631.4 L354.7 628.9 L367.0 625.2 L379.4 620.3 L391.7 616.6 L404.1 614.1 L412.7 611.7 L421.4 615.4 L428.8 616.1 L441.1 614.1 L453.5 610.4 L465.8 606.2 L480.0 601.2 L504.7 591.3 L529.4 581.4 L554.1 572.8 L578.8 561.7 L603.5 554.2 L628.1 546.8 L634.5 544.9" fill="none" stroke="#111" stroke-width="3.00" stroke-linejoin="round" stroke-linecap="butt" stroke-dasharray="7.4 7.4"/>
<path d="M46.4 647.5 L52.9 645.1 L64.5 652.1 L76.1 653.2 L87.7 660.2 L99.2 649.8 L113.1 656.7 L124.7 655.6 L136.3 653.2 L147.9 645.1 L159.4 646.3 L171.0 639.4 L183.7 626.6 L196.9 635.2 L207.4 617.9 L220.1 619.7 L231.7 621.3 L244.4 623.7 L256.0 615.1 L268.7 622.5 L280.3 613.2 L291.9 595.9 L304.6 604.0 L316.2 591.9 L327.7 592.4 L339.9 609.0 L352.2 607.8 L363.3 606.5 L376.9 597.9 L389.3 593.7 L401.6 590.5 L412.7 586.3 L425.1 583.1 L436.2 589.3 L448.5 581.9 L460.9 576.9 L473.2 572.0 L484.6 560.0 L496.0 571.9 L507.2 564.0 L519.5 561.0 L531.9 554.1 L544.2 555.3 L555.3 541.7 L567.7 543.0 L580.0 544.7 L592.3 542.2 L603.5 536.8 L615.8 517.0 L628.1 508.4 L628.1 535.6 L615.8 543.0 L603.5 552.8 L592.3 557.8 L580.0 560.2 L567.7 559.5 L555.3 559.0 L544.2 571.9 L531.9 570.1 L519.5 576.8 L507.2 578.8 L496.0 587.4 L484.6 577.0 L473.2 589.3 L460.9 593.0 L448.5 597.9 L436.2 605.3 L425.1 599.1 L412.7 602.8 L401.6 607.0 L389.3 609.5 L376.9 615.2 L363.3 622.6 L352.2 623.8 L339.9 623.8 L327.7 612.1 L316.2 610.5 L304.6 622.5 L291.9 614.4 L280.3 631.8 L268.7 639.9 L256.0 634.1 L244.4 643.3 L231.7 639.9 L220.1 638.7 L207.4 636.4 L196.9 652.6 L183.7 647.5 L171.0 659.0 L159.4 666.0 L147.9 664.8 L136.3 675.2 L124.7 675.2 L113.1 676.4 L99.7 669.4 L88.1 684.5 L76.1 674.1 L64.5 670.6 L52.9 664.8 L46.4 667.1 Z" fill="rgb(118,148,202)" fill-opacity="0.30" stroke="none"/>
<path d="M46.4 648.6 L57.6 649.8 L76.1 649.8 L87.7 649.8 L99.2 646.3 L113.1 648.6 L124.7 649.8 L136.3 646.3 L147.9 642.8 L160.6 635.9 L172.2 637.0 L184.9 634.7 L190.0 635.2 L207.4 635.9 L220.1 639.9 L231.7 641.0 L244.4 636.4 L256.0 629.4 L268.7 623.7 L280.3 617.9 L291.9 616.7 L304.6 610.9 L316.2 607.5 L327.7 608.6 L339.9 614.5 L352.2 618.5 L363.3 611.5 L376.9 607.0 L389.3 603.5 L401.6 601.5 L412.7 598.6 L425.1 597.5 L436.2 593.8 L448.5 588.5 L460.9 583.5 L473.2 576.0 L480.0 575.1 L504.7 561.5 L529.4 549.1 L554.1 541.7 L578.8 534.3 L604.7 526.9 L604.7 544.2 L578.8 547.9 L554.1 555.3 L529.4 562.7 L504.7 572.6 L480.0 583.7 L473.2 587.5 L460.9 594.5 L448.5 599.5 L436.2 604.5 L425.1 608.0 L412.7 608.6 L401.6 611.5 L389.3 613.5 L376.9 617.0 L363.3 621.5 L352.2 628.0 L339.9 623.5 L327.7 619.0 L316.2 617.9 L304.6 620.6 L291.9 626.0 L280.3 627.1 L268.7 632.9 L256.0 639.2 L244.4 645.6 L231.7 651.4 L220.1 649.1 L207.4 645.6 L190.0 645.6 L184.9 649.8 L172.2 650.9 L160.6 649.8 L147.9 655.6 L136.3 660.2 L124.7 662.5 L113.1 662.5 L99.2 660.6 L87.7 663.7 L76.1 664.8 L57.6 661.3 L46.4 660.6 Z" fill="rgb(158,172,105)" fill-opacity="0.30" stroke="none"/>
<path d="M46.4 657.5 L52.4 654.4 L64.4 661.3 L76.4 664.8 L88.4 675.2 L100.4 659.0 L112.4 667.1 L124.4 665.3 L136.4 664.4 L148.4 654.4 L160.5 656.0 L172.5 649.8 L184.5 635.9 L196.5 645.6 L208.5 627.1 L220.5 629.4 L232.5 630.6 L244.5 634.1 L256.5 623.7 L268.6 631.8 L280.6 622.5 L292.6 604.0 L304.6 613.2 L316.6 600.5 L328.6 602.1 L340.6 616.4 L352.6 616.4 L364.6 615.2 L376.7 607.8 L388.7 601.6 L400.7 599.1 L412.7 594.7 L424.7 591.2 L436.7 597.2 L448.7 589.3 L460.7 584.8 L472.7 580.6 L484.8 567.7 L496.8 579.3 L508.8 571.4 L520.8 568.4 L532.8 561.5 L544.8 563.5 L556.8 550.4 L568.8 551.1 L580.8 552.1 L592.8 549.6 L604.9 544.7 L616.9 530.6 L628.9 522.0" fill="none" stroke="#2b7aaa" stroke-width="3.00" stroke-linejoin="round" stroke-linecap="butt"/>
<path d="M46.4 654.4 L57.6 655.6 L76.1 657.4 L87.7 656.7 L99.2 653.7 L113.1 655.6 L124.7 656.0 L136.3 653.2 L147.9 648.6 L160.6 642.8 L172.2 644.0 L184.9 642.4 L196.0 640.8 L207.4 640.6 L220.1 644.5 L231.7 646.8 L244.4 641.0 L256.0 634.1 L268.7 628.3 L280.3 622.5 L291.9 621.3 L304.6 615.6 L316.2 612.8 L327.7 613.7 L339.9 618.9 L352.2 623.3 L363.3 616.4 L376.9 612.0 L389.3 608.5 L401.6 606.5 L412.7 603.6 L425.1 602.8 L436.2 599.1 L448.5 594.2 L460.9 589.3 L473.2 581.9 L484.3 575.7 L492.3 571.4 L504.7 566.9 L519.5 560.2 L531.9 556.5 L544.2 552.1 L555.3 547.9 L567.7 544.7 L580.0 541.7 L592.3 539.3 L604.7 536.3" fill="none" stroke="#778c38" stroke-width="3.00" stroke-linejoin="round" stroke-linecap="butt"/>
<path d="M436.7 597.2 L448.7 591.7 L460.7 583.8 L472.7 581.4 L484.8 573.8 L496.8 570.9 L508.8 570.1 L520.8 566.9 L532.8 558.5 L544.8 552.8 L556.8 549.6 L568.8 544.7 L580.8 536.3 L592.8 533.8 L604.9 533.1 L616.9 526.9 L628.9 520.7 L634.5 519.8" fill="none" stroke="#a5231a" stroke-width="3.00" stroke-linejoin="round" stroke-linecap="butt"/>
<path d="M428.8 617.4 L441.1 614.9 L453.5 610.7 L465.8 606.0 L480.0 600.5 L504.7 589.6 L529.4 578.8 L554.1 569.2 L578.8 557.1 L603.5 548.7 L628.1 540.3 L634.5 538.2" fill="none" stroke="#000" stroke-width="2.80" stroke-linejoin="round" stroke-linecap="butt" stroke-dasharray="2.8 4.3"/>
</g>
<g clip-path="url(#cpd)">
<line x1="46.4" y1="894.1" x2="634.6" y2="894.1" stroke="#c9c9c9" stroke-width="1.5" stroke-dasharray="7.4 7.4"/>
<path d="M46.4 895.7 L53.8 894.5 L61.1 893.2 L68.5 891.8 L75.8 890.7 L83.2 890.1 L90.5 889.4 L97.9 889.8 L105.2 889.8 L112.6 889.6 L119.9 889.7 L127.3 889.4 L134.6 889.1 L142.0 888.6 L149.4 887.7 L156.7 885.5 L164.1 883.3 L171.4 881.6 L178.8 880.5 L186.1 879.0 L193.5 877.5 L200.8 875.5 L208.2 873.2 L215.5 871.2 L222.9 869.3 L230.2 867.8 L237.6 866.3 L245.0 864.3 L252.3 861.8 L259.7 859.0 L267.0 856.1 L274.4 853.7 L281.7 851.8 L289.1 850.1 L296.4 848.4 L303.8 846.4 L311.1 844.2 L318.5 841.9 L325.9 839.9 L333.2 838.4 L340.6 836.9 L347.9 835.1 L355.3 832.8 L362.6 830.1 L370.0 827.3 L377.3 824.8 L384.7 822.7 L392.0 820.9 L399.4 818.8 L406.7 816.3 L414.1 813.6 L421.5 811.0 L428.8 808.8 L436.2 807.2 L443.5 805.8 L450.9 804.3 L458.2 802.3 L465.6 799.7 L472.9 796.9 L480.3 794.4 L487.6 792.1 L495.0 790.0 L502.3 788.1 L509.7 785.8 L517.1 783.3 L524.4 780.8 L531.8 778.8 L539.1 777.4 L546.5 776.4 L553.8 775.2 L561.2 773.6 L568.5 771.3 L575.9 768.8 L583.2 766.6 L590.6 764.7 L597.9 763.0 L605.3 761.1 L612.7 758.7 L620.0 755.9 L627.4 753.2 L634.7 750.8" fill="none" stroke="#a2a2a2" stroke-width="0.80" stroke-linejoin="round"/>
<path d="M46.4 895.7 L53.8 894.8 L61.1 894.2 L68.5 893.4 L75.8 892.2 L83.2 890.7 L90.5 889.1 L97.9 889.4 L105.2 889.9 L112.6 890.5 L119.9 890.8 L127.3 890.0 L134.6 889.1 L142.0 888.5 L149.4 888.5 L156.7 887.7 L164.1 887.0 L171.4 885.9 L178.8 884.5 L186.1 882.1 L193.5 879.9 L200.8 877.9 L208.2 876.2 L215.5 874.6 L222.9 872.7 L230.2 870.3 L237.6 867.8 L245.0 865.3 L252.3 863.3 L259.7 861.8 L267.0 860.4 L274.4 858.9 L281.7 856.9 L289.1 854.8 L296.4 852.8 L303.8 851.2 L311.1 849.7 L318.5 848.2 L325.9 846.2 L333.2 843.6 L340.6 840.9 L347.9 838.2 L355.3 835.9 L362.6 834.1 L370.0 832.5 L377.3 830.7 L384.7 828.6 L392.0 826.4 L399.4 824.2 L406.7 822.4 L414.1 820.9 L421.5 819.4 L428.8 817.5 L436.2 815.3 L443.5 812.7 L450.9 810.1 L458.2 807.9 L465.6 805.9 L472.9 803.9 L480.3 801.6 L487.6 799.0 L495.0 796.3 L502.3 794.2 L509.7 792.6 L517.1 791.5 L524.4 790.5 L531.8 789.3 L539.1 787.6 L546.5 785.7 L553.8 783.8 L561.2 782.1 L568.5 780.2 L575.9 778.3 L583.2 776.1 L590.6 773.5 L597.9 770.7 L605.3 768.3 L612.7 766.3 L620.0 764.8 L627.4 763.5 L634.7 762.1" fill="none" stroke="#a2a2a2" stroke-width="0.80" stroke-linejoin="round"/>
<path d="M46.4 895.7 L53.8 895.0 L61.1 894.0 L68.5 892.7 L75.8 891.5 L83.2 890.5 L90.5 889.4 L97.9 889.8 L105.2 889.8 L112.6 890.0 L119.9 890.7 L127.3 891.0 L134.6 891.5 L142.0 891.9 L149.4 891.9 L156.7 890.2 L164.1 888.4 L171.4 886.8 L178.8 885.5 L186.1 883.8 L193.5 881.9 L200.8 879.5 L208.2 876.9 L215.5 874.6 L222.9 872.8 L230.2 871.4 L237.6 870.4 L245.0 869.2 L252.3 867.5 L259.7 865.6 L267.0 863.5 L274.4 861.7 L281.7 860.2 L289.1 858.7 L296.4 857.0 L303.8 854.9 L311.1 852.2 L318.5 849.5 L325.9 847.1 L333.2 845.3 L340.6 843.7 L347.9 842.2 L355.3 840.3 L362.6 838.2 L370.0 836.2 L377.3 834.5 L384.7 833.2 L392.0 832.1 L399.4 830.6 L406.7 828.4 L414.1 825.8 L421.5 822.9 L428.8 820.4 L436.2 818.3 L443.5 816.6 L450.9 814.7 L458.2 812.6 L465.6 810.2 L472.9 807.8 L480.3 805.7 L487.6 804.2 L495.0 802.9 L502.3 801.9 L509.7 800.4 L517.1 798.4 L524.4 796.3 L531.8 794.4 L539.1 792.9 L546.5 791.5 L553.8 790.0 L561.2 788.0 L568.5 785.4 L575.9 782.7 L583.2 780.5 L590.6 778.8 L597.9 777.6 L605.3 776.4 L612.7 774.9 L620.0 773.0 L627.4 771.0 L634.7 769.2" fill="none" stroke="#a2a2a2" stroke-width="0.80" stroke-linejoin="round"/>
<path d="M46.4 895.7 L53.8 894.8 L61.1 894.1 L68.5 893.0 L75.8 891.8 L83.2 890.3 L90.5 889.2 L97.9 890.2 L105.2 891.5 L112.6 892.9 L119.9 893.9 L127.3 893.6 L134.6 892.9 L142.0 892.3 L149.4 892.0 L156.7 890.8 L164.1 889.6 L171.4 888.2 L178.8 886.4 L186.1 883.9 L193.5 881.7 L200.8 880.1 L208.2 878.8 L215.5 878.0 L222.9 876.9 L230.2 875.4 L237.6 873.6 L245.0 871.6 L252.3 869.9 L259.7 868.4 L267.0 866.9 L274.4 865.0 L281.7 862.7 L289.1 860.1 L296.4 857.7 L303.8 855.8 L311.1 854.3 L318.5 853.0 L325.9 851.5 L333.2 849.7 L340.6 847.7 L347.9 845.8 L355.3 844.3 L362.6 843.0 L370.0 841.8 L377.3 840.2 L384.7 838.0 L392.0 835.5 L399.4 832.9 L406.7 830.6 L414.1 828.7 L421.5 826.9 L428.8 825.0 L436.2 822.9 L443.5 820.8 L450.9 818.8 L458.2 817.3 L465.6 816.1 L472.9 814.8 L480.3 813.3 L487.6 811.2 L495.0 808.7 L502.3 806.5 L509.7 804.7 L517.1 803.2 L524.4 801.7 L531.8 800.1 L539.1 798.2 L546.5 796.1 L553.8 794.2 L561.2 792.8 L568.5 791.5 L575.9 790.3 L583.2 788.9 L590.6 787.1 L597.9 785.1 L605.3 783.2 L612.7 781.4 L620.0 780.0 L627.4 778.5 L634.7 776.8" fill="none" stroke="#a2a2a2" stroke-width="0.80" stroke-linejoin="round"/>
<path d="M46.4 895.7 L53.8 894.9 L61.1 894.1 L68.5 893.1 L75.8 892.5 L83.2 892.2 L90.5 891.9 L97.9 892.6 L105.2 892.8 L112.6 892.9 L119.9 893.1 L127.3 893.0 L134.6 893.1 L142.0 893.1 L149.4 892.8 L156.7 891.1 L164.1 889.4 L171.4 888.2 L178.8 887.5 L186.1 886.5 L193.5 885.4 L200.8 883.8 L208.2 881.9 L215.5 880.0 L222.9 878.3 L230.2 876.9 L237.6 875.6 L245.0 874.0 L252.3 871.9 L259.7 869.5 L267.0 867.1 L274.4 865.1 L281.7 863.7 L289.1 862.6 L296.4 861.5 L303.8 860.0 L311.1 858.2 L318.5 856.2 L325.9 854.5 L333.2 853.1 L340.6 851.8 L347.9 850.3 L355.3 848.4 L362.6 845.9 L370.0 843.4 L377.3 841.3 L384.7 839.5 L392.0 838.2 L399.4 836.7 L406.7 834.8 L414.1 832.7 L421.5 830.5 L428.8 828.7 L436.2 827.4 L443.5 826.4 L450.9 825.1 L458.2 823.4 L465.6 821.1 L472.9 818.6 L480.3 816.2 L487.6 814.1 L495.0 812.4 L502.3 811.0 L509.7 809.2 L517.1 807.2 L524.4 805.3 L531.8 803.7 L539.1 802.8 L546.5 802.2 L553.8 801.5 L561.2 800.3 L568.5 798.3 L575.9 796.1 L583.2 794.0 L590.6 792.2 L597.9 790.7 L605.3 789.1 L612.7 787.2 L620.0 784.9 L627.4 782.6 L634.7 780.6" fill="none" stroke="#a2a2a2" stroke-width="0.80" stroke-linejoin="round"/>
<path d="M46.4 895.7 L53.8 895.3 L61.1 895.1 L68.5 894.7 L75.8 893.9 L83.2 892.6 L90.5 891.2 L97.9 891.8 L105.2 892.7 L112.6 893.8 L119.9 894.7 L127.3 894.6 L134.6 894.3 L142.0 894.2 L149.4 894.6 L156.7 894.2 L164.1 893.9 L171.4 893.3 L178.8 892.2 L186.1 890.2 L193.5 888.1 L200.8 886.3 L208.2 884.8 L215.5 883.6 L222.9 882.2 L230.2 880.4 L237.6 878.4 L245.0 876.4 L252.3 874.9 L259.7 873.9 L267.0 873.1 L274.4 872.1 L281.7 870.6 L289.1 868.9 L296.4 867.2 L303.8 865.7 L311.1 864.5 L318.5 863.2 L325.9 861.5 L333.2 859.4 L340.6 857.0 L347.9 854.8 L355.3 852.9 L362.6 851.6 L370.0 850.6 L377.3 849.4 L384.7 847.9 L392.0 846.3 L399.4 844.5 L406.7 843.0 L414.1 841.8 L421.5 840.6 L428.8 839.0 L436.2 837.1 L443.5 834.8 L450.9 832.5 L458.2 830.5 L465.6 828.9 L472.9 827.4 L480.3 825.7 L487.6 823.8 L495.0 821.7 L502.3 820.1 L509.7 819.0 L517.1 818.3 L524.4 817.7 L531.8 816.9 L539.1 815.6 L546.5 814.0 L553.8 812.2 L561.2 810.7 L568.5 809.1 L575.9 807.6 L583.2 805.8 L590.6 803.7 L597.9 801.5 L605.3 799.6 L612.7 798.1 L620.0 797.2 L627.4 796.4 L634.7 795.5" fill="none" stroke="#a2a2a2" stroke-width="0.80" stroke-linejoin="round"/>
<path d="M46.4 895.7 L53.8 895.3 L61.1 894.7 L68.5 893.6 L75.8 892.7 L83.2 892.1 L90.5 891.6 L97.9 892.5 L105.2 893.2 L112.6 893.9 L119.9 894.9 L127.3 895.6 L134.6 896.5 L142.0 897.3 L149.4 897.5 L156.7 896.1 L164.1 894.6 L171.4 893.1 L178.8 892.0 L186.1 890.6 L193.5 889.2 L200.8 887.4 L208.2 885.3 L215.5 883.6 L222.9 882.2 L230.2 881.3 L237.6 880.8 L245.0 880.0 L252.3 878.8 L259.7 877.2 L267.0 875.4 L274.4 873.8 L281.7 872.4 L289.1 871.2 L296.4 869.8 L303.8 868.0 L311.1 865.8 L318.5 863.6 L325.9 861.6 L333.2 860.2 L340.6 859.2 L347.9 858.2 L355.3 857.0 L362.6 855.4 L370.0 853.8 L377.3 852.4 L384.7 851.3 L392.0 850.4 L399.4 849.1 L406.7 847.2 L414.1 844.9 L421.5 842.4 L428.8 840.1 L436.2 838.4 L443.5 837.1 L450.9 835.9 L458.2 834.4 L465.6 832.6 L472.9 830.6 L480.3 829.0 L487.6 827.8 L495.0 826.9 L502.3 826.2 L509.7 825.0 L517.1 823.3 L524.4 821.4 L531.8 819.7 L539.1 818.4 L546.5 817.4 L553.8 816.3 L561.2 814.9 L568.5 812.8 L575.9 810.7 L583.2 808.9 L590.6 807.6 L597.9 806.9 L605.3 806.2 L612.7 805.2 L620.0 803.7 L627.4 801.9 L634.7 800.3" fill="none" stroke="#a2a2a2" stroke-width="0.80" stroke-linejoin="round"/>
<path d="M46.4 895.7 L53.8 895.1 L61.1 894.7 L68.5 894.1 L75.8 893.4 L83.2 892.5 L90.5 891.8 L97.9 893.1 L105.2 894.7 L112.6 896.3 L119.9 897.6 L127.3 897.6 L134.6 897.2 L142.0 896.7 L149.4 896.6 L156.7 895.7 L164.1 895.0 L171.4 894.1 L178.8 892.9 L186.1 890.9 L193.5 889.2 L200.8 887.9 L208.2 887.1 L215.5 886.7 L222.9 886.0 L230.2 884.8 L237.6 883.3 L245.0 881.4 L252.3 879.8 L259.7 878.5 L267.0 877.3 L274.4 875.8 L281.7 873.9 L289.1 871.8 L296.4 869.9 L303.8 868.4 L311.1 867.4 L318.5 866.6 L325.9 865.7 L333.2 864.4 L340.6 862.7 L347.9 861.1 L355.3 859.7 L362.6 858.6 L370.0 857.6 L377.3 856.2 L384.7 854.4 L392.0 852.2 L399.4 850.0 L406.7 848.0 L414.1 846.5 L421.5 845.3 L428.8 844.0 L436.2 842.5 L443.5 840.8 L450.9 839.2 L458.2 838.0 L465.6 837.0 L472.9 836.1 L480.3 834.8 L487.6 832.9 L495.0 830.7 L502.3 828.7 L509.7 827.1 L517.1 825.9 L524.4 824.8 L531.8 823.7 L539.1 822.4 L546.5 820.9 L553.8 819.5 L561.2 818.5 L568.5 817.6 L575.9 816.8 L583.2 815.8 L590.6 814.3 L597.9 812.6 L605.3 810.8 L612.7 809.2 L620.0 807.9 L627.4 806.7 L634.7 805.4" fill="none" stroke="#a2a2a2" stroke-width="0.80" stroke-linejoin="round"/>
<path d="M46.4 895.7 L53.8 895.4 L61.1 895.1 L68.5 894.6 L75.8 894.3 L83.2 894.4 L90.5 894.3 L97.9 895.4 L105.2 895.9 L112.6 896.3 L119.9 896.8 L127.3 897.0 L134.6 897.6 L142.0 898.2 L149.4 898.5 L156.7 897.4 L164.1 896.3 L171.4 895.6 L178.8 895.2 L186.1 894.6 L193.5 893.9 L200.8 892.8 L208.2 891.1 L215.5 889.5 L222.9 888.0 L230.2 886.8 L237.6 885.9 L245.0 884.7 L252.3 883.1 L259.7 881.3 L267.0 879.5 L274.4 878.0 L281.7 877.0 L289.1 876.4 L296.4 875.8 L303.8 874.9 L311.1 873.5 L318.5 871.9 L325.9 870.4 L333.2 869.1 L340.6 868.1 L347.9 866.9 L355.3 865.3 L362.6 863.3 L370.0 861.3 L377.3 859.5 L384.7 858.3 L392.0 857.5 L399.4 856.6 L406.7 855.4 L414.1 853.8 L421.5 852.1 L428.8 850.6 L436.2 849.5 L443.5 848.8 L450.9 847.8 L458.2 846.4 L465.6 844.5 L472.9 842.2 L480.3 840.1 L487.6 838.4 L495.0 837.1 L502.3 836.3 L509.7 835.2 L517.1 833.8 L524.4 832.4 L531.8 831.4 L539.1 830.8 L546.5 830.6 L553.8 830.3 L561.2 829.5 L568.5 827.8 L575.9 825.8 L583.2 823.9 L590.6 822.3 L597.9 821.2 L605.3 820.0 L612.7 818.6 L620.0 816.9 L627.4 815.1 L634.7 813.7" fill="none" stroke="#a2a2a2" stroke-width="0.80" stroke-linejoin="round"/>
<path d="M46.4 895.7 L53.8 895.7 L61.1 895.8 L68.5 895.6 L75.8 895.1 L83.2 894.2 L90.5 893.0 L97.9 893.9 L105.2 895.2 L112.6 896.8 L119.9 898.3 L127.3 898.8 L134.6 899.0 L142.0 899.3 L149.4 900.0 L156.7 900.0 L164.1 900.0 L171.4 899.7 L178.8 898.8 L186.1 897.0 L193.5 895.1 L200.8 893.5 L208.2 892.3 L215.5 891.5 L222.9 890.5 L230.2 889.3 L237.6 887.8 L245.0 886.3 L252.3 885.3 L259.7 884.7 L267.0 884.3 L274.4 883.7 L281.7 882.7 L289.1 881.2 L296.4 879.7 L303.8 878.3 L311.1 877.2 L318.5 876.2 L325.9 874.9 L333.2 873.2 L340.6 871.3 L347.9 869.4 L355.3 868.0 L362.6 867.2 L370.0 866.7 L377.3 866.1 L384.7 865.1 L392.0 863.8 L399.4 862.3 L406.7 861.0 L414.1 860.0 L421.5 859.0 L428.8 857.7 L436.2 856.1 L443.5 854.1 L450.9 852.1 L458.2 850.4 L465.6 849.2 L472.9 848.2 L480.3 847.1 L487.6 845.8 L495.0 844.2 L502.3 843.0 L509.7 842.2 L517.1 841.8 L524.4 841.5 L531.8 841.0 L539.1 840.0 L546.5 838.6 L553.8 837.0 L561.2 835.7 L568.5 834.3 L575.9 833.2 L583.2 831.9 L590.6 830.4 L597.9 828.8 L605.3 827.3 L612.7 826.3 L620.0 825.7 L627.4 825.4 L634.7 825.0" fill="none" stroke="#a2a2a2" stroke-width="0.80" stroke-linejoin="round"/>
<path d="M46.4 895.7 L61.1 894.5 L90.5 891.0 L119.9 894.1 L149.3 894.1 L178.8 889.5 L208.2 882.7 L237.6 877.0 L270.9 869.6 L301.7 862.8 L332.6 855.7 L363.5 848.6 L394.3 841.9 L412.8 837.2 L430.0 832.8 L462.4 825.3 L494.8 817.2 L527.2 810.7 L559.6 804.9 L592.0 797.1 L634.5 788.0" fill="none" stroke="#000" stroke-width="3.20" stroke-linejoin="round" stroke-linecap="butt"/>
<path d="M46.4 896.5 L61.1 895.3 L90.5 891.8 L119.9 894.9 L149.3 894.9 L178.8 890.3 L208.2 883.5 L237.6 877.8 L270.9 870.4 L301.7 863.6 L332.6 856.5 L363.5 849.4 L394.3 842.7 L412.8 838.0 L430.0 833.6 L462.4 826.1 L494.8 818.0 L527.2 811.5 L559.6 805.7 L592.0 797.9 L634.5 788.8" fill="none" stroke="#111" stroke-width="3.00" stroke-linejoin="round" stroke-linecap="butt" stroke-dasharray="7.4 7.4"/>
<path d="M46.4 867.3 L61.1 866.0 L90.5 860.0 L119.9 853.1 L149.3 864.8 L178.8 855.6 L208.2 844.8 L237.6 835.6 L267.0 817.8 L296.4 834.1 L325.9 818.7 L355.3 817.2 L384.7 808.5 L414.1 810.4 L443.5 788.0 L472.9 788.7 L502.4 789.7 L531.8 783.2 L561.2 773.5 L590.6 752.4 L620.0 735.6 L620.0 812.4 L590.6 826.9 L561.2 844.8 L531.8 849.6 L502.4 852.2 L472.9 851.2 L443.5 849.0 L414.1 867.2 L384.7 863.5 L355.3 874.3 L325.9 877.3 L296.4 891.2 L267.0 872.7 L237.6 889.0 L208.2 898.8 L178.8 909.6 L149.3 918.8 L119.9 908.0 L90.5 914.2 L61.1 921.9 L46.4 922.8 Z" fill="rgb(118,148,202)" fill-opacity="0.30" stroke="none"/>
<path d="M46.4 875.6 L76.9 871.6 L119.9 869.4 L149.3 861.7 L178.8 855.6 L208.2 846.3 L237.6 834.5 L267.0 828.0 L296.4 818.7 L325.9 811.6 L355.3 804.2 L384.7 801.7 L414.1 790.9 L443.5 783.2 L472.9 773.5 L502.4 770.2 L531.8 765.4 L561.2 757.3 L561.2 817.2 L531.8 817.2 L502.4 820.5 L472.9 823.7 L443.5 830.2 L414.1 832.6 L384.7 841.9 L355.3 844.9 L325.9 853.6 L296.4 860.4 L267.0 868.1 L237.6 877.0 L208.2 888.0 L178.8 894.1 L149.3 900.3 L119.9 906.5 L76.9 909.6 L46.4 914.2 Z" fill="rgb(158,172,105)" fill-opacity="0.30" stroke="none"/>
<path d="M46.4 895.5 L61.1 893.0 L90.5 888.0 L119.9 880.9 L149.3 891.0 L178.8 881.8 L208.2 870.4 L237.6 864.3 L267.0 845.6 L296.4 862.8 L325.9 847.4 L355.3 844.9 L384.7 836.3 L414.1 838.1 L443.5 818.8 L472.9 818.8 L502.4 820.5 L531.8 817.2 L561.2 809.1 L590.6 788.0 L620.0 776.7" fill="none" stroke="#2b7aaa" stroke-width="3.00" stroke-linejoin="round" stroke-linecap="butt"/>
<path d="M46.4 896.3 L61.1 894.0 L90.5 889.5 L119.9 888.0 L149.3 880.9 L178.8 875.6 L208.2 867.9 L237.6 856.0 L267.0 848.0 L296.4 839.4 L325.9 832.6 L355.3 824.0 L384.7 821.8 L414.1 812.5 L443.5 807.5 L472.9 798.4 L502.4 795.2 L531.8 791.3 L561.2 787.4" fill="none" stroke="#778c38" stroke-width="3.00" stroke-linejoin="round" stroke-linecap="butt"/>
<path d="M149.3 891.0 L178.8 881.8 L208.2 870.4 L237.6 867.0 L267.0 854.8 L296.4 849.6 L325.9 848.6 L355.3 843.4 L384.7 829.5 L414.1 820.9 L443.5 814.0 L472.9 807.5 L502.4 797.8 L531.8 793.9 L561.2 793.9 L590.6 783.2 L620.0 774.4 L634.5 773.5" fill="none" stroke="#a5231a" stroke-width="3.00" stroke-linejoin="round" stroke-linecap="butt"/>
<path d="M119.9 892.6 L149.3 892.6 L178.8 888.0 L208.2 881.2 L237.6 875.5 L270.9 868.1 L301.7 861.3 L332.6 854.2 L363.5 847.1 L394.3 840.4 L412.8 835.7 L430.0 831.3 L462.4 822.4 L494.8 812.8 L527.2 804.9 L559.6 797.7 L592.0 788.5 L634.5 777.5" fill="none" stroke="#000" stroke-width="2.80" stroke-linejoin="round" stroke-linecap="butt" stroke-dasharray="2.8 4.3"/>
</g>
<rect x="46.4" y="0.6" width="588.2" height="218.3" fill="none" stroke="#000" stroke-width="1.4"/>
<path d="M46.4 218.9V213.1M46.4 0.6V6.4M99.9 218.9V213.1M99.9 0.6V6.4M153.3 218.9V213.1M153.3 0.6V6.4M206.8 218.9V213.1M206.8 0.6V6.4M260.3 218.9V213.1M260.3 0.6V6.4M313.8 218.9V213.1M313.8 0.6V6.4M367.2 218.9V213.1M367.2 0.6V6.4M420.7 218.9V213.1M420.7 0.6V6.4M474.2 218.9V213.1M474.2 0.6V6.4M527.7 218.9V213.1M527.7 0.6V6.4M581.1 218.9V213.1M581.1 0.6V6.4M634.6 218.9V213.1M634.6 0.6V6.4M46.4 218.6H52.2M634.6 218.6H628.8M46.4 176.7H52.2M634.6 176.7H628.8M46.4 134.8H52.2M634.6 134.8H628.8M46.4 92.8H52.2M634.6 92.8H628.8M46.4 50.9H52.2M634.6 50.9H628.8M46.4 9.0H52.2M634.6 9.0H628.8" stroke="#000" stroke-width="1.3" fill="none"/>
<text x="46.4" y="232.2" font-size="12" text-anchor="middle">1900</text>
<text x="99.9" y="232.2" font-size="12" text-anchor="middle">1910</text>
<text x="153.3" y="232.2" font-size="12" text-anchor="middle">1920</text>
<text x="206.8" y="232.2" font-size="12" text-anchor="middle">1930</text>
<text x="260.3" y="232.2" font-size="12" text-anchor="middle">1940</text>
<text x="313.8" y="232.2" font-size="12" text-anchor="middle">1950</text>
<text x="367.2" y="232.2" font-size="12" text-anchor="middle">1960</text>
<text x="420.7" y="232.2" font-size="12" text-anchor="middle">1970</text>
<text x="474.2" y="232.2" font-size="12" text-anchor="middle">1980</text>
<text x="527.7" y="232.2" font-size="12" text-anchor="middle">1990</text>
<text x="581.1" y="232.2" font-size="12" text-anchor="middle">2000</text>
<text x="634.6" y="232.2" font-size="12" text-anchor="middle">2010</text>
<text x="42.6" y="222.9" font-size="12" text-anchor="end">-50</text>
<text x="42.6" y="181.0" font-size="12" text-anchor="end">0</text>
<text x="42.6" y="139.1" font-size="12" text-anchor="end">50</text>
<text x="42.6" y="97.1" font-size="12" text-anchor="end">100</text>
<text x="42.6" y="55.2" font-size="12" text-anchor="end">150</text>
<text x="42.6" y="13.3" font-size="12" text-anchor="end">200</text>
<rect x="46.4" y="240.0" width="588.2" height="218.4" fill="none" stroke="#000" stroke-width="1.4"/>
<path d="M46.4 458.4V452.6M46.4 240.0V245.8M99.9 458.4V452.6M99.9 240.0V245.8M153.3 458.4V452.6M153.3 240.0V245.8M206.8 458.4V452.6M206.8 240.0V245.8M260.3 458.4V452.6M260.3 240.0V245.8M313.8 458.4V452.6M313.8 240.0V245.8M367.2 458.4V452.6M367.2 240.0V245.8M420.7 458.4V452.6M420.7 240.0V245.8M474.2 458.4V452.6M474.2 240.0V245.8M527.7 458.4V452.6M527.7 240.0V245.8M581.1 458.4V452.6M581.1 240.0V245.8M634.6 458.4V452.6M634.6 240.0V245.8M46.4 458.4H52.2M634.6 458.4H628.8M46.4 414.7H52.2M634.6 414.7H628.8M46.4 371.0H52.2M634.6 371.0H628.8M46.4 327.3H52.2M634.6 327.3H628.8M46.4 283.7H52.2M634.6 283.7H628.8M46.4 240.0H52.2M634.6 240.0H628.8" stroke="#000" stroke-width="1.3" fill="none"/>
<text x="46.4" y="473.7" font-size="12" text-anchor="middle">1900</text>
<text x="99.9" y="473.7" font-size="12" text-anchor="middle">1910</text>
<text x="153.3" y="473.7" font-size="12" text-anchor="middle">1920</text>
<text x="206.8" y="473.7" font-size="12" text-anchor="middle">1930</text>
<text x="260.3" y="473.7" font-size="12" text-anchor="middle">1940</text>
<text x="313.8" y="473.7" font-size="12" text-anchor="middle">1950</text>
<text x="367.2" y="473.7" font-size="12" text-anchor="middle">1960</text>
<text x="420.7" y="473.7" font-size="12" text-anchor="middle">1970</text>
<text x="474.2" y="473.7" font-size="12" text-anchor="middle">1980</text>
<text x="527.7" y="473.7" font-size="12" text-anchor="middle">1990</text>
<text x="581.1" y="473.7" font-size="12" text-anchor="middle">2000</text>
<text x="634.6" y="473.7" font-size="12" text-anchor="middle">2010</text>
<text x="42.6" y="462.7" font-size="12" text-anchor="end">-1</text>
<text x="42.6" y="419.0" font-size="12" text-anchor="end">0</text>
<text x="42.6" y="375.3" font-size="12" text-anchor="end">1</text>
<text x="42.6" y="331.6" font-size="12" text-anchor="end">2</text>
<text x="42.6" y="288.0" font-size="12" text-anchor="end">3</text>
<text x="42.6" y="244.3" font-size="12" text-anchor="end">4</text>
<rect x="46.4" y="479.6" width="588.2" height="218.6" fill="none" stroke="#000" stroke-width="1.4"/>
<path d="M94.4 698.2V692.4M94.4 479.6V485.4M154.4 698.2V692.4M154.4 479.6V485.4M214.5 698.2V692.4M214.5 479.6V485.4M274.5 698.2V692.4M274.5 479.6V485.4M334.5 698.2V692.4M334.5 479.6V485.4M394.5 698.2V692.4M394.5 479.6V485.4M454.5 698.2V692.4M454.5 479.6V485.4M514.6 698.2V692.4M514.6 479.6V485.4M574.6 698.2V692.4M574.6 479.6V485.4M634.6 698.2V692.4M634.6 479.6V485.4M46.4 683.5H52.2M634.6 683.5H628.8M46.4 654.4H52.2M634.6 654.4H628.8M46.4 625.3H52.2M634.6 625.3H628.8M46.4 596.1H52.2M634.6 596.1H628.8M46.4 567.0H52.2M634.6 567.0H628.8M46.4 537.9H52.2M634.6 537.9H628.8M46.4 508.8H52.2M634.6 508.8H628.8M46.4 479.6H52.2M634.6 479.6H628.8" stroke="#000" stroke-width="1.3" fill="none"/>
<text x="94.4" y="713.2" font-size="12" text-anchor="middle">1965</text>
<text x="154.4" y="713.2" font-size="12" text-anchor="middle">1970</text>
<text x="214.5" y="713.2" font-size="12" text-anchor="middle">1975</text>
<text x="274.5" y="713.2" font-size="12" text-anchor="middle">1980</text>
<text x="334.5" y="713.2" font-size="12" text-anchor="middle">1985</text>
<text x="394.5" y="713.2" font-size="12" text-anchor="middle">1990</text>
<text x="454.5" y="713.2" font-size="12" text-anchor="middle">1995</text>
<text x="514.6" y="713.2" font-size="12" text-anchor="middle">2000</text>
<text x="574.6" y="713.2" font-size="12" text-anchor="middle">2005</text>
<text x="634.6" y="713.2" font-size="12" text-anchor="middle">2010</text>
<text x="42.6" y="687.8" font-size="12" text-anchor="end">-20</text>
<text x="42.6" y="658.7" font-size="12" text-anchor="end">0</text>
<text x="42.6" y="629.6" font-size="12" text-anchor="end">20</text>
<text x="42.6" y="600.4" font-size="12" text-anchor="end">40</text>
<text x="42.6" y="571.3" font-size="12" text-anchor="end">60</text>
<text x="42.6" y="542.2" font-size="12" text-anchor="end">80</text>
<text x="42.6" y="513.0" font-size="12" text-anchor="end">100</text>
<text x="42.6" y="483.9" font-size="12" text-anchor="end">120</text>
<rect x="46.4" y="719.0" width="588.2" height="218.9" fill="none" stroke="#000" stroke-width="1.4"/>
<path d="M46.4 937.9V932.1M46.4 719.0V724.8M105.2 937.9V932.1M105.2 719.0V724.8M164.0 937.9V932.1M164.0 719.0V724.8M222.9 937.9V932.1M222.9 719.0V724.8M281.7 937.9V932.1M281.7 719.0V724.8M340.5 937.9V932.1M340.5 719.0V724.8M399.3 937.9V932.1M399.3 719.0V724.8M458.1 937.9V932.1M458.1 719.0V724.8M517.0 937.9V932.1M517.0 719.0V724.8M575.8 937.9V932.1M575.8 719.0V724.8M634.6 937.9V932.1M634.6 719.0V724.8M46.4 937.9H52.2M634.6 937.9H628.8M46.4 894.1H52.2M634.6 894.1H628.8M46.4 850.3H52.2M634.6 850.3H628.8M46.4 806.5H52.2M634.6 806.5H628.8M46.4 762.8H52.2M634.6 762.8H628.8M46.4 719.0H52.2M634.6 719.0H628.8" stroke="#000" stroke-width="1.3" fill="none"/>
<text x="46.4" y="952.7" font-size="12" text-anchor="middle">1990</text>
<text x="105.2" y="952.7" font-size="12" text-anchor="middle">1992</text>
<text x="164.0" y="952.7" font-size="12" text-anchor="middle">1994</text>
<text x="222.9" y="952.7" font-size="12" text-anchor="middle">1996</text>
<text x="281.7" y="952.7" font-size="12" text-anchor="middle">1998</text>
<text x="340.5" y="952.7" font-size="12" text-anchor="middle">2000</text>
<text x="399.3" y="952.7" font-size="12" text-anchor="middle">2002</text>
<text x="458.1" y="952.7" font-size="12" text-anchor="middle">2004</text>
<text x="517.0" y="952.7" font-size="12" text-anchor="middle">2006</text>
<text x="575.8" y="952.7" font-size="12" text-anchor="middle">2008</text>
<text x="634.6" y="952.7" font-size="12" text-anchor="middle">2010</text>
<text x="42.6" y="942.2" font-size="12" text-anchor="end">-20</text>
<text x="42.6" y="898.4" font-size="12" text-anchor="end">0</text>
<text x="42.6" y="854.6" font-size="12" text-anchor="end">20</text>
<text x="42.6" y="810.8" font-size="12" text-anchor="end">40</text>
<text x="42.6" y="767.1" font-size="12" text-anchor="end">60</text>
<text x="42.6" y="723.3" font-size="12" text-anchor="end">80</text>
<text x="51.0" y="18.4" font-size="18.6" font-weight="bold" class="b">a)</text>
<text x="51.0" y="260.6" font-size="18.6" font-weight="bold" class="b">b)</text>
<text x="51.0" y="499.8" font-size="18.6" font-weight="bold" class="b">c)</text>
<text x="51.0" y="739.1" font-size="18.6" font-weight="bold" class="b">d)</text>
<text transform="translate(14.1,110.3) rotate(-90)" font-size="12.3" text-anchor="middle">Observed and modelled sea level [mm]</text>
<text transform="translate(10.2,348.5) rotate(-90)" font-size="12.3" text-anchor="middle">Observed and modelled sea level</text>
<text transform="translate(22.8,349.0) rotate(-90)" font-size="12.3" text-anchor="middle">rate of change [mm/y]</text>
<text transform="translate(14.6,587.5) rotate(-90)" font-size="12.3" text-anchor="middle">Observed and modelled sea level [mm]</text>
<text transform="translate(15.5,828.0) rotate(-90)" font-size="12.3" text-anchor="middle">Observed and modelled sea level [mm]</text>
<text x="340.5" y="967.3" font-size="12.2" text-anchor="middle">Time [year]</text>
<line x1="74.4" y1="16.5" x2="101.9" y2="16.5" stroke="#2b7aaa" stroke-width="3.0"/>
<text x="112.6" y="21.4" font-size="12.3">Church and White (2011)</text>
<line x1="74.4" y1="30.7" x2="101.9" y2="30.7" stroke="#778c38" stroke-width="2.9"/>
<text x="112.6" y="35.6" font-size="12.3">Ray and Douglas (2011)</text>
<line x1="74.4" y1="45.4" x2="101.9" y2="45.4" stroke="#a5231a" stroke-width="3.0"/>
<text x="112.6" y="50.3" font-size="12.3">Altimeter</text>
<line x1="74.4" y1="59.5" x2="101.9" y2="59.5" stroke="#000" stroke-width="2.8"/>
<text x="112.6" y="64.4" font-size="12.3">Model mean</text>
<line x1="74.4" y1="74.4" x2="101.9" y2="74.4" stroke="#000" stroke-width="2.6" stroke-dasharray="7.7 7.4"/>
<text x="112.6" y="79.3" font-size="12.3">Adjusted model mean</text>
<line x1="74.4" y1="88.9" x2="101.9" y2="88.9" stroke="#c3c3c3" stroke-width="1.4"/>
<text x="112.6" y="93.8" font-size="12.3">Individual model</text>
<line x1="74.4" y1="103.2" x2="101.9" y2="103.2" stroke="#000" stroke-width="2.6" stroke-dasharray="2.4 5.0"/>
<text x="112.6" y="107.1" font-size="12.3">Including observed</text>
<text x="112.6" y="120.0" font-size="12.3">ice-sheet contribution</text>
</svg></body></html>
